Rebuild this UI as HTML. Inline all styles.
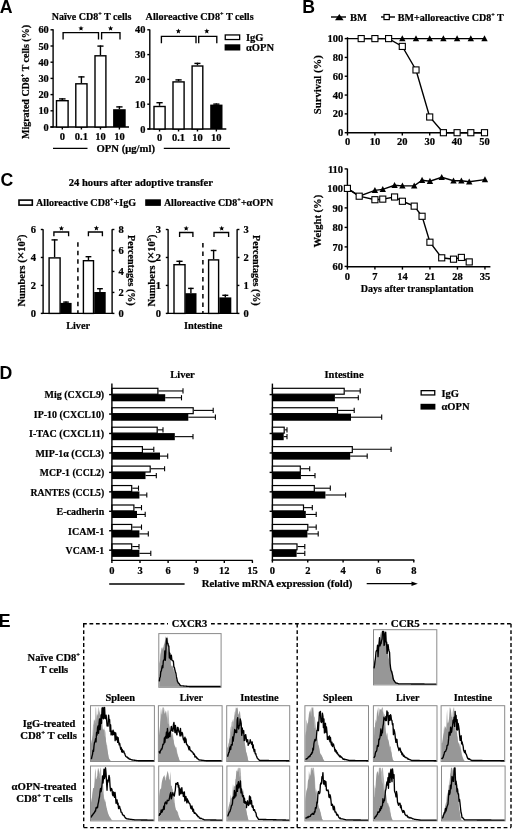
<!DOCTYPE html>
<html><head><meta charset="utf-8"><title>Figure</title>
<style>
html,body{margin:0;padding:0;background:#fff;}
body{width:520px;height:833px;overflow:hidden;position:relative;font-family:"Liberation Serif",serif;}
svg{position:absolute;left:0;top:0;display:block;will-change:transform;}
</style></head>
<body>
<svg width="520" height="833" viewBox="0 0 520 833">
<rect x="0" y="0" width="520" height="833" fill="#fff"/>
<text x="-0.20" y="12.70" font-size="17.7" text-anchor="start" font-family='"Liberation Sans", sans-serif' font-weight="bold" fill="#000">A</text>
<text x="51.70" y="20.20" font-size="10.5" text-anchor="start" font-family='"Liberation Serif", serif' font-weight="bold" fill="#000" stroke="#000" stroke-width="0.22" textLength="79.70" lengthAdjust="spacingAndGlyphs">Naïve CD8<tspan font-size="6.51" dy="-3.99">+</tspan><tspan dy="3.99"> T cells</tspan></text>
<text x="145.60" y="20.20" font-size="10.5" text-anchor="start" font-family='"Liberation Serif", serif' font-weight="bold" fill="#000" stroke="#000" stroke-width="0.22" textLength="108.00" lengthAdjust="spacingAndGlyphs">Alloreactive CD8<tspan font-size="6.51" dy="-3.99">+</tspan><tspan dy="3.99"> T cells</tspan></text>
<line x1="53.10" y1="29.20" x2="53.10" y2="127.60" stroke="#000" stroke-width="1.4"/>
<line x1="50.30" y1="127.00" x2="129.00" y2="127.00" stroke="#000" stroke-width="1.4"/>
<line x1="50.50" y1="127.00" x2="53.10" y2="127.00" stroke="#000" stroke-width="1.4"/>
<text x="48.80" y="130.60" font-size="10.5" text-anchor="end" font-family='"Liberation Serif", serif' font-weight="bold" fill="#000" stroke="#000" stroke-width="0.22" textLength="5.20" lengthAdjust="spacingAndGlyphs">0</text>
<line x1="50.50" y1="110.80" x2="53.10" y2="110.80" stroke="#000" stroke-width="1.4"/>
<text x="48.80" y="114.40" font-size="10.5" text-anchor="end" font-family='"Liberation Serif", serif' font-weight="bold" fill="#000" stroke="#000" stroke-width="0.22" textLength="10.40" lengthAdjust="spacingAndGlyphs">10</text>
<line x1="50.50" y1="94.60" x2="53.10" y2="94.60" stroke="#000" stroke-width="1.4"/>
<text x="48.80" y="98.20" font-size="10.5" text-anchor="end" font-family='"Liberation Serif", serif' font-weight="bold" fill="#000" stroke="#000" stroke-width="0.22" textLength="10.40" lengthAdjust="spacingAndGlyphs">20</text>
<line x1="50.50" y1="78.40" x2="53.10" y2="78.40" stroke="#000" stroke-width="1.4"/>
<text x="48.80" y="82.00" font-size="10.5" text-anchor="end" font-family='"Liberation Serif", serif' font-weight="bold" fill="#000" stroke="#000" stroke-width="0.22" textLength="10.40" lengthAdjust="spacingAndGlyphs">30</text>
<line x1="50.50" y1="62.20" x2="53.10" y2="62.20" stroke="#000" stroke-width="1.4"/>
<text x="48.80" y="65.80" font-size="10.5" text-anchor="end" font-family='"Liberation Serif", serif' font-weight="bold" fill="#000" stroke="#000" stroke-width="0.22" textLength="10.40" lengthAdjust="spacingAndGlyphs">40</text>
<line x1="50.50" y1="46.00" x2="53.10" y2="46.00" stroke="#000" stroke-width="1.4"/>
<text x="48.80" y="49.60" font-size="10.5" text-anchor="end" font-family='"Liberation Serif", serif' font-weight="bold" fill="#000" stroke="#000" stroke-width="0.22" textLength="10.40" lengthAdjust="spacingAndGlyphs">50</text>
<line x1="50.50" y1="29.80" x2="53.10" y2="29.80" stroke="#000" stroke-width="1.4"/>
<text x="48.80" y="33.40" font-size="10.5" text-anchor="end" font-family='"Liberation Serif", serif' font-weight="bold" fill="#000" stroke="#000" stroke-width="0.22" textLength="10.40" lengthAdjust="spacingAndGlyphs">60</text>
<line x1="62.30" y1="100.00" x2="62.30" y2="98.20" stroke="#000" stroke-width="1.4"/>
<line x1="59.05" y1="98.90" x2="65.55" y2="98.90" stroke="#000" stroke-width="1.4"/>
<rect x="56.50" y="100.70" width="11.60" height="26.30" fill="#fff" stroke="#000" stroke-width="1.4"/>
<line x1="62.30" y1="127.00" x2="62.30" y2="129.50" stroke="#000" stroke-width="1.4"/>
<text x="62.30" y="140.20" font-size="10.5" text-anchor="middle" font-family='"Liberation Serif", serif' font-weight="bold" fill="#000" stroke="#000" stroke-width="0.22">0</text>
<line x1="81.40" y1="83.10" x2="81.40" y2="76.20" stroke="#000" stroke-width="1.4"/>
<line x1="78.25" y1="76.90" x2="84.55" y2="76.90" stroke="#000" stroke-width="1.4"/>
<rect x="75.80" y="83.80" width="11.20" height="43.20" fill="#fff" stroke="#000" stroke-width="1.4"/>
<line x1="81.40" y1="127.00" x2="81.40" y2="129.50" stroke="#000" stroke-width="1.4"/>
<text x="81.40" y="140.20" font-size="10.5" text-anchor="middle" font-family='"Liberation Serif", serif' font-weight="bold" fill="#000" stroke="#000" stroke-width="0.22">0.1</text>
<line x1="100.45" y1="55.10" x2="100.45" y2="45.40" stroke="#000" stroke-width="1.4"/>
<line x1="97.37" y1="46.10" x2="103.52" y2="46.10" stroke="#000" stroke-width="1.4"/>
<rect x="95.00" y="55.80" width="10.90" height="71.20" fill="#fff" stroke="#000" stroke-width="1.4"/>
<line x1="100.45" y1="127.00" x2="100.45" y2="129.50" stroke="#000" stroke-width="1.4"/>
<text x="100.45" y="140.20" font-size="10.5" text-anchor="middle" font-family='"Liberation Serif", serif' font-weight="bold" fill="#000" stroke="#000" stroke-width="0.22">10</text>
<line x1="119.40" y1="109.20" x2="119.40" y2="106.20" stroke="#000" stroke-width="1.4"/>
<line x1="116.25" y1="106.90" x2="122.55" y2="106.90" stroke="#000" stroke-width="1.4"/>
<rect x="113.10" y="109.20" width="12.60" height="17.80" fill="#000"/>
<line x1="119.40" y1="127.00" x2="119.40" y2="129.50" stroke="#000" stroke-width="1.4"/>
<text x="119.40" y="140.20" font-size="10.5" text-anchor="middle" font-family='"Liberation Serif", serif' font-weight="bold" fill="#000" stroke="#000" stroke-width="0.22">10</text>
<polyline points="63.10,39.50 63.10,32.67 98.50,32.67 98.50,39.50" fill="none" stroke="#000" stroke-width="1.35" stroke-linejoin="miter"/>
<polyline points="101.60,39.50 101.60,32.67 120.00,32.67 120.00,39.50" fill="none" stroke="#000" stroke-width="1.35" stroke-linejoin="miter"/>
<polygon points="81.00,25.65 81.73,27.40 83.62,27.55 82.18,28.78 82.62,30.62 81.00,29.64 79.38,30.62 79.82,28.78 78.38,27.55 80.27,27.40" fill="#000"/>
<polygon points="110.60,25.65 111.33,27.40 113.22,27.55 111.78,28.78 112.22,30.62 110.60,29.64 108.98,30.62 109.42,28.78 107.98,27.55 109.87,27.40" fill="#000"/>
<text x="29.00" y="82.00" font-size="10.5" text-anchor="middle" font-family='"Liberation Serif", serif' font-weight="bold" fill="#000" stroke="#000" stroke-width="0.22" textLength="114.00" lengthAdjust="spacingAndGlyphs" transform="rotate(-90 29.00 82.00)">Migrated CD8<tspan font-size="6.51" dy="-3.99">+</tspan><tspan dy="3.99"> T cells (%)</tspan></text>
<line x1="149.80" y1="29.40" x2="149.80" y2="129.60" stroke="#000" stroke-width="1.4"/>
<line x1="147.50" y1="129.00" x2="226.30" y2="129.00" stroke="#000" stroke-width="1.4"/>
<line x1="147.30" y1="129.00" x2="149.80" y2="129.00" stroke="#000" stroke-width="1.4"/>
<text x="145.50" y="132.60" font-size="10.5" text-anchor="end" font-family='"Liberation Serif", serif' font-weight="bold" fill="#000" stroke="#000" stroke-width="0.22" textLength="5.20" lengthAdjust="spacingAndGlyphs">0</text>
<line x1="147.30" y1="104.20" x2="149.80" y2="104.20" stroke="#000" stroke-width="1.4"/>
<text x="145.50" y="107.80" font-size="10.5" text-anchor="end" font-family='"Liberation Serif", serif' font-weight="bold" fill="#000" stroke="#000" stroke-width="0.22" textLength="10.40" lengthAdjust="spacingAndGlyphs">10</text>
<line x1="147.30" y1="79.40" x2="149.80" y2="79.40" stroke="#000" stroke-width="1.4"/>
<text x="145.50" y="83.00" font-size="10.5" text-anchor="end" font-family='"Liberation Serif", serif' font-weight="bold" fill="#000" stroke="#000" stroke-width="0.22" textLength="10.40" lengthAdjust="spacingAndGlyphs">20</text>
<line x1="147.30" y1="54.60" x2="149.80" y2="54.60" stroke="#000" stroke-width="1.4"/>
<text x="145.50" y="58.20" font-size="10.5" text-anchor="end" font-family='"Liberation Serif", serif' font-weight="bold" fill="#000" stroke="#000" stroke-width="0.22" textLength="10.40" lengthAdjust="spacingAndGlyphs">30</text>
<line x1="147.30" y1="29.80" x2="149.80" y2="29.80" stroke="#000" stroke-width="1.4"/>
<text x="145.50" y="33.40" font-size="10.5" text-anchor="end" font-family='"Liberation Serif", serif' font-weight="bold" fill="#000" stroke="#000" stroke-width="0.22" textLength="10.40" lengthAdjust="spacingAndGlyphs">40</text>
<line x1="159.55" y1="105.80" x2="159.55" y2="102.00" stroke="#000" stroke-width="1.4"/>
<line x1="156.43" y1="102.70" x2="162.68" y2="102.70" stroke="#000" stroke-width="1.4"/>
<rect x="154.00" y="106.50" width="11.10" height="22.50" fill="#fff" stroke="#000" stroke-width="1.4"/>
<line x1="159.55" y1="129.00" x2="159.55" y2="131.50" stroke="#000" stroke-width="1.4"/>
<text x="159.55" y="140.50" font-size="10.5" text-anchor="middle" font-family='"Liberation Serif", serif' font-weight="bold" fill="#000" stroke="#000" stroke-width="0.22">0</text>
<line x1="178.55" y1="81.20" x2="178.55" y2="79.20" stroke="#000" stroke-width="1.4"/>
<line x1="175.43" y1="79.90" x2="181.68" y2="79.90" stroke="#000" stroke-width="1.4"/>
<rect x="173.00" y="81.90" width="11.10" height="47.10" fill="#fff" stroke="#000" stroke-width="1.4"/>
<line x1="178.55" y1="129.00" x2="178.55" y2="131.50" stroke="#000" stroke-width="1.4"/>
<text x="178.55" y="140.50" font-size="10.5" text-anchor="middle" font-family='"Liberation Serif", serif' font-weight="bold" fill="#000" stroke="#000" stroke-width="0.22">0.1</text>
<line x1="197.45" y1="65.30" x2="197.45" y2="62.70" stroke="#000" stroke-width="1.4"/>
<line x1="194.42" y1="63.40" x2="200.47" y2="63.40" stroke="#000" stroke-width="1.4"/>
<rect x="192.10" y="66.00" width="10.70" height="63.00" fill="#fff" stroke="#000" stroke-width="1.4"/>
<line x1="197.45" y1="129.00" x2="197.45" y2="131.50" stroke="#000" stroke-width="1.4"/>
<text x="197.45" y="140.50" font-size="10.5" text-anchor="middle" font-family='"Liberation Serif", serif' font-weight="bold" fill="#000" stroke="#000" stroke-width="0.22">10</text>
<line x1="216.35" y1="104.60" x2="216.35" y2="103.40" stroke="#000" stroke-width="1.4"/>
<line x1="213.27" y1="104.10" x2="219.43" y2="104.10" stroke="#000" stroke-width="1.4"/>
<rect x="210.20" y="104.60" width="12.30" height="24.40" fill="#000"/>
<line x1="216.35" y1="129.00" x2="216.35" y2="131.50" stroke="#000" stroke-width="1.4"/>
<text x="216.35" y="140.50" font-size="10.5" text-anchor="middle" font-family='"Liberation Serif", serif' font-weight="bold" fill="#000" stroke="#000" stroke-width="0.22">10</text>
<polyline points="161.40,43.20 161.40,36.38 196.00,36.38 196.00,43.20" fill="none" stroke="#000" stroke-width="1.35" stroke-linejoin="miter"/>
<polyline points="198.70,43.20 198.70,36.38 216.80,36.38 216.80,43.20" fill="none" stroke="#000" stroke-width="1.35" stroke-linejoin="miter"/>
<polygon points="178.40,28.45 179.13,30.20 181.02,30.35 179.58,31.58 180.02,33.42 178.40,32.44 176.78,33.42 177.22,31.58 175.78,30.35 177.67,30.20" fill="#000"/>
<polygon points="206.80,28.45 207.53,30.20 209.42,30.35 207.98,31.58 208.42,33.42 206.80,32.44 205.18,33.42 205.62,31.58 204.18,30.35 206.07,30.20" fill="#000"/>
<rect x="225.25" y="34.95" width="14.40" height="4.60" fill="#fff" stroke="#000" stroke-width="1.3"/>
<rect x="224.60" y="44.30" width="15.70" height="6.20" fill="#000"/>
<text x="246.00" y="40.60" font-size="10.5" text-anchor="start" font-family='"Liberation Serif", serif' font-weight="bold" fill="#000" stroke="#000" stroke-width="0.22">IgG</text>
<text x="246.00" y="50.60" font-size="10.5" text-anchor="start" font-family='"Liberation Serif", serif' font-weight="bold" fill="#000" stroke="#000" stroke-width="0.22">αOPN</text>
<line x1="53.00" y1="148.40" x2="87.50" y2="148.40" stroke="#000" stroke-width="1.3"/>
<line x1="163.80" y1="148.40" x2="229.90" y2="148.40" stroke="#000" stroke-width="1.3"/>
<text x="96.50" y="152.20" font-size="10.5" text-anchor="start" font-family='"Liberation Serif", serif' font-weight="bold" fill="#000" stroke="#000" stroke-width="0.22" textLength="58.50" lengthAdjust="spacingAndGlyphs">OPN (μg/ml)</text>
<!--B-->
<text x="302.20" y="12.60" font-size="17.7" text-anchor="start" font-family='"Liberation Sans", sans-serif' font-weight="bold" fill="#000">B</text>
<line x1="331.00" y1="17.00" x2="346.00" y2="17.00" stroke="#000" stroke-width="1.4"/>
<polygon points="335.0,20.2 339.3,13.9 343.6,20.2" fill="#000"/>
<text x="350.00" y="20.50" font-size="10.5" text-anchor="start" font-family='"Liberation Serif", serif' font-weight="bold" fill="#000" stroke="#000" stroke-width="0.22">BM</text>
<line x1="381.00" y1="17.00" x2="395.00" y2="17.00" stroke="#000" stroke-width="1.4"/>
<rect x="384.00" y="14.50" width="5.30" height="5.10" fill="#fff" stroke="#000" stroke-width="1.2"/>
<text x="397.80" y="20.50" font-size="10.5" text-anchor="start" font-family='"Liberation Serif", serif' font-weight="bold" fill="#000" stroke="#000" stroke-width="0.22" textLength="106.00" lengthAdjust="spacingAndGlyphs">BM+alloreactive CD8<tspan font-size="6.51" dy="-3.99">+</tspan><tspan dy="3.99"> T</tspan></text>
<line x1="347.50" y1="37.20" x2="347.50" y2="133.30" stroke="#000" stroke-width="1.4"/>
<line x1="346.90" y1="132.70" x2="486.00" y2="132.70" stroke="#000" stroke-width="1.4"/>
<line x1="344.70" y1="132.70" x2="347.50" y2="132.70" stroke="#000" stroke-width="1.4"/>
<text x="343.20" y="136.30" font-size="10.5" text-anchor="end" font-family='"Liberation Serif", serif' font-weight="bold" fill="#000" stroke="#000" stroke-width="0.22">0</text>
<line x1="344.70" y1="113.88" x2="347.50" y2="113.88" stroke="#000" stroke-width="1.4"/>
<text x="343.20" y="117.48" font-size="10.5" text-anchor="end" font-family='"Liberation Serif", serif' font-weight="bold" fill="#000" stroke="#000" stroke-width="0.22">20</text>
<line x1="344.70" y1="95.06" x2="347.50" y2="95.06" stroke="#000" stroke-width="1.4"/>
<text x="343.20" y="98.66" font-size="10.5" text-anchor="end" font-family='"Liberation Serif", serif' font-weight="bold" fill="#000" stroke="#000" stroke-width="0.22">40</text>
<line x1="344.70" y1="76.24" x2="347.50" y2="76.24" stroke="#000" stroke-width="1.4"/>
<text x="343.20" y="79.84" font-size="10.5" text-anchor="end" font-family='"Liberation Serif", serif' font-weight="bold" fill="#000" stroke="#000" stroke-width="0.22">60</text>
<line x1="344.70" y1="57.42" x2="347.50" y2="57.42" stroke="#000" stroke-width="1.4"/>
<text x="343.20" y="61.02" font-size="10.5" text-anchor="end" font-family='"Liberation Serif", serif' font-weight="bold" fill="#000" stroke="#000" stroke-width="0.22">80</text>
<line x1="344.70" y1="38.60" x2="347.50" y2="38.60" stroke="#000" stroke-width="1.4"/>
<text x="343.20" y="42.20" font-size="10.5" text-anchor="end" font-family='"Liberation Serif", serif' font-weight="bold" fill="#000" stroke="#000" stroke-width="0.22">100</text>
<line x1="347.50" y1="132.70" x2="347.50" y2="135.50" stroke="#000" stroke-width="1.4"/>
<text x="347.50" y="145.00" font-size="10.5" text-anchor="middle" font-family='"Liberation Serif", serif' font-weight="bold" fill="#000" stroke="#000" stroke-width="0.22">0</text>
<line x1="374.90" y1="132.70" x2="374.90" y2="135.50" stroke="#000" stroke-width="1.4"/>
<text x="374.90" y="145.00" font-size="10.5" text-anchor="middle" font-family='"Liberation Serif", serif' font-weight="bold" fill="#000" stroke="#000" stroke-width="0.22">10</text>
<line x1="402.30" y1="132.70" x2="402.30" y2="135.50" stroke="#000" stroke-width="1.4"/>
<text x="402.30" y="145.00" font-size="10.5" text-anchor="middle" font-family='"Liberation Serif", serif' font-weight="bold" fill="#000" stroke="#000" stroke-width="0.22">20</text>
<line x1="429.70" y1="132.70" x2="429.70" y2="135.50" stroke="#000" stroke-width="1.4"/>
<text x="429.70" y="145.00" font-size="10.5" text-anchor="middle" font-family='"Liberation Serif", serif' font-weight="bold" fill="#000" stroke="#000" stroke-width="0.22">30</text>
<line x1="457.10" y1="132.70" x2="457.10" y2="135.50" stroke="#000" stroke-width="1.4"/>
<text x="457.10" y="145.00" font-size="10.5" text-anchor="middle" font-family='"Liberation Serif", serif' font-weight="bold" fill="#000" stroke="#000" stroke-width="0.22">40</text>
<line x1="484.50" y1="132.70" x2="484.50" y2="135.50" stroke="#000" stroke-width="1.4"/>
<text x="484.50" y="145.00" font-size="10.5" text-anchor="middle" font-family='"Liberation Serif", serif' font-weight="bold" fill="#000" stroke="#000" stroke-width="0.22">50</text>
<text x="321.20" y="84.70" font-size="10.5" text-anchor="middle" font-family='"Liberation Serif", serif' font-weight="bold" fill="#000" stroke="#000" stroke-width="0.22" textLength="59.00" lengthAdjust="spacingAndGlyphs" transform="rotate(-90 321.20 84.70)">Survival (%)</text>
<line x1="347.50" y1="38.60" x2="484.50" y2="38.60" stroke="#000" stroke-width="1.4"/>
<polygon points="399.10,41.32 402.30,35.24 405.50,41.32" fill="#000"/>
<polygon points="412.80,41.32 416.00,35.24 419.20,41.32" fill="#000"/>
<polygon points="426.50,41.32 429.70,35.24 432.90,41.32" fill="#000"/>
<polygon points="440.20,41.32 443.40,35.24 446.60,41.32" fill="#000"/>
<polygon points="453.90,41.32 457.10,35.24 460.30,41.32" fill="#000"/>
<polygon points="467.60,41.32 470.80,35.24 474.00,41.32" fill="#000"/>
<polygon points="481.30,41.32 484.50,35.24 487.70,41.32" fill="#000"/>
<polyline points="361.20,38.60 374.90,38.60 388.60,38.60 402.30,46.41 416.00,69.94 429.70,116.99 443.40,132.70 457.10,132.70 470.80,132.70 484.50,132.70" fill="none" stroke="#000" stroke-width="1.4" stroke-linejoin="miter"/>
<rect x="358.15" y="35.55" width="6.10" height="6.10" fill="#fff" stroke="#000" stroke-width="1.1"/>
<rect x="371.85" y="35.55" width="6.10" height="6.10" fill="#fff" stroke="#000" stroke-width="1.1"/>
<rect x="385.55" y="35.55" width="6.10" height="6.10" fill="#fff" stroke="#000" stroke-width="1.1"/>
<rect x="399.25" y="43.36" width="6.10" height="6.10" fill="#fff" stroke="#000" stroke-width="1.1"/>
<rect x="412.95" y="66.89" width="6.10" height="6.10" fill="#fff" stroke="#000" stroke-width="1.1"/>
<rect x="426.65" y="113.94" width="6.10" height="6.10" fill="#fff" stroke="#000" stroke-width="1.1"/>
<rect x="440.35" y="129.65" width="6.10" height="6.10" fill="#fff" stroke="#000" stroke-width="1.1"/>
<rect x="454.05" y="129.65" width="6.10" height="6.10" fill="#fff" stroke="#000" stroke-width="1.1"/>
<rect x="467.75" y="129.65" width="6.10" height="6.10" fill="#fff" stroke="#000" stroke-width="1.1"/>
<rect x="481.45" y="129.65" width="6.10" height="6.10" fill="#fff" stroke="#000" stroke-width="1.1"/>
<line x1="347.40" y1="168.60" x2="347.40" y2="267.40" stroke="#000" stroke-width="1.4"/>
<line x1="346.80" y1="266.80" x2="490.40" y2="266.80" stroke="#000" stroke-width="1.4"/>
<line x1="344.60" y1="266.40" x2="347.40" y2="266.40" stroke="#000" stroke-width="1.4"/>
<text x="343.10" y="270.00" font-size="10.5" text-anchor="end" font-family='"Liberation Serif", serif' font-weight="bold" fill="#000" stroke="#000" stroke-width="0.22">60</text>
<line x1="344.60" y1="246.90" x2="347.40" y2="246.90" stroke="#000" stroke-width="1.4"/>
<text x="343.10" y="250.50" font-size="10.5" text-anchor="end" font-family='"Liberation Serif", serif' font-weight="bold" fill="#000" stroke="#000" stroke-width="0.22">70</text>
<line x1="344.60" y1="227.40" x2="347.40" y2="227.40" stroke="#000" stroke-width="1.4"/>
<text x="343.10" y="231.00" font-size="10.5" text-anchor="end" font-family='"Liberation Serif", serif' font-weight="bold" fill="#000" stroke="#000" stroke-width="0.22">80</text>
<line x1="344.60" y1="207.90" x2="347.40" y2="207.90" stroke="#000" stroke-width="1.4"/>
<text x="343.10" y="211.50" font-size="10.5" text-anchor="end" font-family='"Liberation Serif", serif' font-weight="bold" fill="#000" stroke="#000" stroke-width="0.22">90</text>
<line x1="344.60" y1="188.40" x2="347.40" y2="188.40" stroke="#000" stroke-width="1.4"/>
<text x="343.10" y="192.00" font-size="10.5" text-anchor="end" font-family='"Liberation Serif", serif' font-weight="bold" fill="#000" stroke="#000" stroke-width="0.22">100</text>
<line x1="344.60" y1="168.90" x2="347.40" y2="168.90" stroke="#000" stroke-width="1.4"/>
<text x="343.10" y="172.50" font-size="10.5" text-anchor="end" font-family='"Liberation Serif", serif' font-weight="bold" fill="#000" stroke="#000" stroke-width="0.22">110</text>
<line x1="347.40" y1="266.80" x2="347.40" y2="269.60" stroke="#000" stroke-width="1.4"/>
<text x="347.40" y="280.00" font-size="10.5" text-anchor="middle" font-family='"Liberation Serif", serif' font-weight="bold" fill="#000" stroke="#000" stroke-width="0.22">0</text>
<line x1="374.91" y1="266.80" x2="374.91" y2="269.60" stroke="#000" stroke-width="1.4"/>
<text x="374.91" y="280.00" font-size="10.5" text-anchor="middle" font-family='"Liberation Serif", serif' font-weight="bold" fill="#000" stroke="#000" stroke-width="0.22">7</text>
<line x1="402.42" y1="266.80" x2="402.42" y2="269.60" stroke="#000" stroke-width="1.4"/>
<text x="402.42" y="280.00" font-size="10.5" text-anchor="middle" font-family='"Liberation Serif", serif' font-weight="bold" fill="#000" stroke="#000" stroke-width="0.22">14</text>
<line x1="429.93" y1="266.80" x2="429.93" y2="269.60" stroke="#000" stroke-width="1.4"/>
<text x="429.93" y="280.00" font-size="10.5" text-anchor="middle" font-family='"Liberation Serif", serif' font-weight="bold" fill="#000" stroke="#000" stroke-width="0.22">21</text>
<line x1="457.44" y1="266.80" x2="457.44" y2="269.60" stroke="#000" stroke-width="1.4"/>
<text x="457.44" y="280.00" font-size="10.5" text-anchor="middle" font-family='"Liberation Serif", serif' font-weight="bold" fill="#000" stroke="#000" stroke-width="0.22">28</text>
<line x1="484.95" y1="266.80" x2="484.95" y2="269.60" stroke="#000" stroke-width="1.4"/>
<text x="484.95" y="280.00" font-size="10.5" text-anchor="middle" font-family='"Liberation Serif", serif' font-weight="bold" fill="#000" stroke="#000" stroke-width="0.22">35</text>
<text x="417.20" y="291.50" font-size="10.5" text-anchor="middle" font-family='"Liberation Serif", serif' font-weight="bold" fill="#000" stroke="#000" stroke-width="0.22" textLength="112.80" lengthAdjust="spacingAndGlyphs">Days after transplantation</text>
<text x="321.00" y="221.10" font-size="10.5" text-anchor="middle" font-family='"Liberation Serif", serif' font-weight="bold" fill="#000" stroke="#000" stroke-width="0.22" textLength="52.60" lengthAdjust="spacingAndGlyphs" transform="rotate(-90 321.00 221.10)">Weight (%)</text>
<polyline points="347.40,188.40 359.19,196.20 374.91,190.35 382.77,189.38 394.56,185.28 402.42,185.87 414.21,185.87 422.07,180.21 429.93,181.19 441.72,177.28 453.51,180.79 461.37,180.79 469.23,181.77 484.95,179.62" fill="none" stroke="#000" stroke-width="1.4" stroke-linejoin="miter"/>
<polygon points="344.20,191.12 347.40,185.04 350.60,191.12" fill="#000"/>
<polygon points="355.99,198.92 359.19,192.84 362.39,198.92" fill="#000"/>
<polygon points="371.71,193.07 374.91,186.99 378.11,193.07" fill="#000"/>
<polygon points="379.57,192.09 382.77,186.01 385.97,192.09" fill="#000"/>
<polygon points="391.36,188.00 394.56,181.92 397.76,188.00" fill="#000"/>
<polygon points="399.22,188.59 402.42,182.50 405.62,188.59" fill="#000"/>
<polygon points="411.01,188.59 414.21,182.50 417.41,188.59" fill="#000"/>
<polygon points="418.87,182.93 422.07,176.85 425.27,182.93" fill="#000"/>
<polygon points="426.73,183.91 429.93,177.82 433.13,183.91" fill="#000"/>
<polygon points="438.52,180.00 441.72,173.92 444.92,180.00" fill="#000"/>
<polygon points="450.31,183.51 453.51,177.43 456.71,183.51" fill="#000"/>
<polygon points="458.17,183.51 461.37,177.43 464.57,183.51" fill="#000"/>
<polygon points="466.03,184.49 469.23,178.41 472.43,184.49" fill="#000"/>
<polygon points="481.75,182.34 484.95,176.26 488.15,182.34" fill="#000"/>
<polyline points="347.40,188.40 359.19,196.20 374.91,199.71 382.77,199.12 394.56,196.98 402.42,201.27 414.21,206.14 422.07,216.28 429.93,242.22 441.72,257.82 453.51,259.19 461.37,257.43 469.23,261.92" fill="none" stroke="#000" stroke-width="1.4" stroke-linejoin="miter"/>
<rect x="344.35" y="185.35" width="6.10" height="6.10" fill="#fff" stroke="#000" stroke-width="1.1"/>
<rect x="356.14" y="193.15" width="6.10" height="6.10" fill="#fff" stroke="#000" stroke-width="1.1"/>
<rect x="371.86" y="196.66" width="6.10" height="6.10" fill="#fff" stroke="#000" stroke-width="1.1"/>
<rect x="379.72" y="196.07" width="6.10" height="6.10" fill="#fff" stroke="#000" stroke-width="1.1"/>
<rect x="391.51" y="193.93" width="6.10" height="6.10" fill="#fff" stroke="#000" stroke-width="1.1"/>
<rect x="399.37" y="198.22" width="6.10" height="6.10" fill="#fff" stroke="#000" stroke-width="1.1"/>
<rect x="411.16" y="203.09" width="6.10" height="6.10" fill="#fff" stroke="#000" stroke-width="1.1"/>
<rect x="419.02" y="213.23" width="6.10" height="6.10" fill="#fff" stroke="#000" stroke-width="1.1"/>
<rect x="426.88" y="239.17" width="6.10" height="6.10" fill="#fff" stroke="#000" stroke-width="1.1"/>
<rect x="438.67" y="254.77" width="6.10" height="6.10" fill="#fff" stroke="#000" stroke-width="1.1"/>
<rect x="450.46" y="256.13" width="6.10" height="6.10" fill="#fff" stroke="#000" stroke-width="1.1"/>
<rect x="458.32" y="254.38" width="6.10" height="6.10" fill="#fff" stroke="#000" stroke-width="1.1"/>
<rect x="466.18" y="258.87" width="6.10" height="6.10" fill="#fff" stroke="#000" stroke-width="1.1"/>
<!--C-->
<text x="0.60" y="185.60" font-size="17.7" text-anchor="start" font-family='"Liberation Sans", sans-serif' font-weight="bold" fill="#000">C</text>
<text x="68.70" y="186.20" font-size="10.5" text-anchor="start" font-family='"Liberation Serif", serif' font-weight="bold" fill="#000" stroke="#000" stroke-width="0.22" textLength="144.20" lengthAdjust="spacingAndGlyphs">24 hours after adoptive transfer</text>
<rect x="19.00" y="200.10" width="13.30" height="5.00" fill="#fff" stroke="#000" stroke-width="1.6"/>
<text x="36.10" y="205.90" font-size="10.5" text-anchor="start" font-family='"Liberation Serif", serif' font-weight="bold" fill="#000" stroke="#000" stroke-width="0.22" textLength="99.90" lengthAdjust="spacingAndGlyphs">Alloreactive CD8<tspan font-size="6.51" dy="-3.99">+</tspan><tspan dy="3.99">+IgG</tspan></text>
<rect x="145.20" y="199.30" width="15.70" height="6.60" fill="#000"/>
<text x="163.90" y="205.90" font-size="10.5" text-anchor="start" font-family='"Liberation Serif", serif' font-weight="bold" fill="#000" stroke="#000" stroke-width="0.22" textLength="109.40" lengthAdjust="spacingAndGlyphs">Alloreactive CD8<tspan font-size="6.51" dy="-3.99">+</tspan><tspan dy="3.99">+αOPN</tspan></text>
<line x1="43.10" y1="229.20" x2="43.10" y2="314.00" stroke="#000" stroke-width="1.4"/>
<line x1="112.10" y1="229.20" x2="112.10" y2="314.00" stroke="#000" stroke-width="1.4"/>
<line x1="42.50" y1="313.40" x2="112.70" y2="313.40" stroke="#000" stroke-width="1.4"/>
<line x1="40.80" y1="313.40" x2="43.10" y2="313.40" stroke="#000" stroke-width="1.4"/>
<text x="35.90" y="317.10" font-size="10.5" text-anchor="end" font-family='"Liberation Serif", serif' font-weight="bold" fill="#000" stroke="#000" stroke-width="0.22">0</text>
<line x1="40.80" y1="285.43" x2="43.10" y2="285.43" stroke="#000" stroke-width="1.4"/>
<text x="35.90" y="289.13" font-size="10.5" text-anchor="end" font-family='"Liberation Serif", serif' font-weight="bold" fill="#000" stroke="#000" stroke-width="0.22">2</text>
<line x1="40.80" y1="257.47" x2="43.10" y2="257.47" stroke="#000" stroke-width="1.4"/>
<text x="35.90" y="261.17" font-size="10.5" text-anchor="end" font-family='"Liberation Serif", serif' font-weight="bold" fill="#000" stroke="#000" stroke-width="0.22">4</text>
<line x1="40.80" y1="229.50" x2="43.10" y2="229.50" stroke="#000" stroke-width="1.4"/>
<text x="35.90" y="233.20" font-size="10.5" text-anchor="end" font-family='"Liberation Serif", serif' font-weight="bold" fill="#000" stroke="#000" stroke-width="0.22">6</text>
<line x1="112.10" y1="313.40" x2="114.40" y2="313.40" stroke="#000" stroke-width="1.4"/>
<text x="118.60" y="317.10" font-size="10.5" text-anchor="start" font-family='"Liberation Serif", serif' font-weight="bold" fill="#000" stroke="#000" stroke-width="0.22">0</text>
<line x1="112.10" y1="292.42" x2="114.40" y2="292.42" stroke="#000" stroke-width="1.4"/>
<text x="118.60" y="296.12" font-size="10.5" text-anchor="start" font-family='"Liberation Serif", serif' font-weight="bold" fill="#000" stroke="#000" stroke-width="0.22">2</text>
<line x1="112.10" y1="271.45" x2="114.40" y2="271.45" stroke="#000" stroke-width="1.4"/>
<text x="118.60" y="275.15" font-size="10.5" text-anchor="start" font-family='"Liberation Serif", serif' font-weight="bold" fill="#000" stroke="#000" stroke-width="0.22">4</text>
<line x1="112.10" y1="250.47" x2="114.40" y2="250.47" stroke="#000" stroke-width="1.4"/>
<text x="118.60" y="254.17" font-size="10.5" text-anchor="start" font-family='"Liberation Serif", serif' font-weight="bold" fill="#000" stroke="#000" stroke-width="0.22">6</text>
<line x1="112.10" y1="229.50" x2="114.40" y2="229.50" stroke="#000" stroke-width="1.4"/>
<text x="118.60" y="233.20" font-size="10.5" text-anchor="start" font-family='"Liberation Serif", serif' font-weight="bold" fill="#000" stroke="#000" stroke-width="0.22">8</text>
<line x1="54.60" y1="257.20" x2="54.60" y2="239.20" stroke="#000" stroke-width="1.4"/>
<line x1="51.50" y1="239.90" x2="57.70" y2="239.90" stroke="#000" stroke-width="1.4"/>
<rect x="49.10" y="257.90" width="11.00" height="55.50" fill="#fff" stroke="#000" stroke-width="1.4"/>
<line x1="66.00" y1="302.90" x2="66.00" y2="301.40" stroke="#000" stroke-width="1.4"/>
<line x1="63.20" y1="302.10" x2="68.80" y2="302.10" stroke="#000" stroke-width="1.4"/>
<rect x="60.40" y="302.90" width="11.20" height="10.50" fill="#000"/>
<line x1="88.45" y1="260.00" x2="88.45" y2="256.00" stroke="#000" stroke-width="1.4"/>
<line x1="85.58" y1="256.70" x2="91.33" y2="256.70" stroke="#000" stroke-width="1.4"/>
<rect x="83.40" y="260.70" width="10.10" height="52.70" fill="#fff" stroke="#000" stroke-width="1.4"/>
<line x1="99.95" y1="292.00" x2="99.95" y2="288.00" stroke="#000" stroke-width="1.4"/>
<line x1="97.08" y1="288.70" x2="102.83" y2="288.70" stroke="#000" stroke-width="1.4"/>
<rect x="94.20" y="292.00" width="11.50" height="21.40" fill="#000"/>
<line x1="77.90" y1="242.30" x2="77.90" y2="313.40" stroke="#000" stroke-width="1.5" stroke-dasharray="4.4,4.1"/>
<polyline points="53.90,236.30 53.90,231.98 68.60,231.98 68.60,236.30" fill="none" stroke="#000" stroke-width="1.35" stroke-linejoin="miter"/>
<polyline points="88.40,236.30 88.40,231.98 102.40,231.98 102.40,236.30" fill="none" stroke="#000" stroke-width="1.35" stroke-linejoin="miter"/>
<polygon points="61.40,225.65 62.13,227.40 64.02,227.55 62.58,228.78 63.02,230.62 61.40,229.64 59.78,230.62 60.22,228.78 58.78,227.55 60.67,227.40" fill="#000"/>
<polygon points="96.40,225.45 97.13,227.20 99.02,227.35 97.58,228.58 98.02,230.42 96.40,229.44 94.78,230.42 95.22,228.58 93.78,227.35 95.67,227.20" fill="#000"/>
<text x="25.10" y="270.50" font-size="10.5" text-anchor="middle" font-family='"Liberation Serif", serif' font-weight="bold" fill="#000" stroke="#000" stroke-width="0.22" textLength="72.00" lengthAdjust="spacingAndGlyphs" transform="rotate(-90 25.10 270.50)">Numbers (<tspan font-size="13.5">×</tspan>10<tspan font-size="6.51" dy="-3.99">3</tspan><tspan dy="3.99">)</tspan></text>
<text x="127.90" y="270.40" font-size="10.5" text-anchor="middle" font-family='"Liberation Serif", serif' font-weight="bold" fill="#000" stroke="#000" stroke-width="0.22" textLength="70.60" lengthAdjust="spacingAndGlyphs" transform="rotate(90 127.90 270.40)">Percentages (%)</text>
<text x="78.10" y="329.40" font-size="10.5" text-anchor="middle" font-family='"Liberation Serif", serif' font-weight="bold" fill="#000" stroke="#000" stroke-width="0.22" textLength="23.80" lengthAdjust="spacingAndGlyphs">Liver</text>
<line x1="168.10" y1="229.20" x2="168.10" y2="314.00" stroke="#000" stroke-width="1.4"/>
<line x1="237.10" y1="229.20" x2="237.10" y2="314.00" stroke="#000" stroke-width="1.4"/>
<line x1="167.50" y1="313.40" x2="237.70" y2="313.40" stroke="#000" stroke-width="1.4"/>
<line x1="165.80" y1="313.40" x2="168.10" y2="313.40" stroke="#000" stroke-width="1.4"/>
<text x="160.90" y="317.10" font-size="10.5" text-anchor="end" font-family='"Liberation Serif", serif' font-weight="bold" fill="#000" stroke="#000" stroke-width="0.22">0</text>
<line x1="165.80" y1="285.43" x2="168.10" y2="285.43" stroke="#000" stroke-width="1.4"/>
<text x="160.90" y="289.13" font-size="10.5" text-anchor="end" font-family='"Liberation Serif", serif' font-weight="bold" fill="#000" stroke="#000" stroke-width="0.22">1</text>
<line x1="165.80" y1="257.47" x2="168.10" y2="257.47" stroke="#000" stroke-width="1.4"/>
<text x="160.90" y="261.17" font-size="10.5" text-anchor="end" font-family='"Liberation Serif", serif' font-weight="bold" fill="#000" stroke="#000" stroke-width="0.22">2</text>
<line x1="165.80" y1="229.50" x2="168.10" y2="229.50" stroke="#000" stroke-width="1.4"/>
<text x="160.90" y="233.20" font-size="10.5" text-anchor="end" font-family='"Liberation Serif", serif' font-weight="bold" fill="#000" stroke="#000" stroke-width="0.22">3</text>
<line x1="237.10" y1="313.40" x2="239.40" y2="313.40" stroke="#000" stroke-width="1.4"/>
<text x="243.60" y="317.10" font-size="10.5" text-anchor="start" font-family='"Liberation Serif", serif' font-weight="bold" fill="#000" stroke="#000" stroke-width="0.22">0</text>
<line x1="237.10" y1="285.43" x2="239.40" y2="285.43" stroke="#000" stroke-width="1.4"/>
<text x="243.60" y="289.13" font-size="10.5" text-anchor="start" font-family='"Liberation Serif", serif' font-weight="bold" fill="#000" stroke="#000" stroke-width="0.22">1</text>
<line x1="237.10" y1="257.47" x2="239.40" y2="257.47" stroke="#000" stroke-width="1.4"/>
<text x="243.60" y="261.17" font-size="10.5" text-anchor="start" font-family='"Liberation Serif", serif' font-weight="bold" fill="#000" stroke="#000" stroke-width="0.22">2</text>
<line x1="237.10" y1="229.50" x2="239.40" y2="229.50" stroke="#000" stroke-width="1.4"/>
<text x="243.60" y="233.20" font-size="10.5" text-anchor="start" font-family='"Liberation Serif", serif' font-weight="bold" fill="#000" stroke="#000" stroke-width="0.22">3</text>
<line x1="179.50" y1="264.00" x2="179.50" y2="260.60" stroke="#000" stroke-width="1.4"/>
<line x1="176.40" y1="261.30" x2="182.60" y2="261.30" stroke="#000" stroke-width="1.4"/>
<rect x="174.00" y="264.70" width="11.00" height="48.70" fill="#fff" stroke="#000" stroke-width="1.4"/>
<line x1="190.90" y1="293.20" x2="190.90" y2="287.70" stroke="#000" stroke-width="1.4"/>
<line x1="188.10" y1="288.40" x2="193.70" y2="288.40" stroke="#000" stroke-width="1.4"/>
<rect x="185.30" y="293.20" width="11.20" height="20.20" fill="#000"/>
<line x1="213.60" y1="259.20" x2="213.60" y2="249.80" stroke="#000" stroke-width="1.4"/>
<line x1="210.75" y1="250.50" x2="216.45" y2="250.50" stroke="#000" stroke-width="1.4"/>
<rect x="208.60" y="259.90" width="10.00" height="53.50" fill="#fff" stroke="#000" stroke-width="1.4"/>
<line x1="225.30" y1="297.40" x2="225.30" y2="294.60" stroke="#000" stroke-width="1.4"/>
<line x1="222.30" y1="295.30" x2="228.30" y2="295.30" stroke="#000" stroke-width="1.4"/>
<rect x="219.30" y="297.40" width="12.00" height="16.00" fill="#000"/>
<line x1="202.90" y1="243.00" x2="202.90" y2="313.40" stroke="#000" stroke-width="1.5" stroke-dasharray="4.4,4.1"/>
<polyline points="179.60,237.00 179.60,232.48 192.90,232.48 192.90,237.00" fill="none" stroke="#000" stroke-width="1.35" stroke-linejoin="miter"/>
<polyline points="214.00,237.00 214.00,232.48 228.60,232.48 228.60,237.00" fill="none" stroke="#000" stroke-width="1.35" stroke-linejoin="miter"/>
<polygon points="186.20,225.65 186.93,227.40 188.82,227.55 187.38,228.78 187.82,230.62 186.20,229.64 184.58,230.62 185.02,228.78 183.58,227.55 185.47,227.40" fill="#000"/>
<polygon points="221.70,225.65 222.43,227.40 224.32,227.55 222.88,228.78 223.32,230.62 221.70,229.64 220.08,230.62 220.52,228.78 219.08,227.55 220.97,227.40" fill="#000"/>
<text x="154.50" y="270.50" font-size="10.5" text-anchor="middle" font-family='"Liberation Serif", serif' font-weight="bold" fill="#000" stroke="#000" stroke-width="0.22" textLength="72.00" lengthAdjust="spacingAndGlyphs" transform="rotate(-90 154.50 270.50)">Numbers (<tspan font-size="13.5">×</tspan>10<tspan font-size="6.51" dy="-3.99">5</tspan><tspan dy="3.99">)</tspan></text>
<text x="252.90" y="270.40" font-size="10.5" text-anchor="middle" font-family='"Liberation Serif", serif' font-weight="bold" fill="#000" stroke="#000" stroke-width="0.22" textLength="70.60" lengthAdjust="spacingAndGlyphs" transform="rotate(90 252.90 270.40)">Percentages (%)</text>
<text x="203.20" y="329.40" font-size="10.5" text-anchor="middle" font-family='"Liberation Serif", serif' font-weight="bold" fill="#000" stroke="#000" stroke-width="0.22" textLength="38.40" lengthAdjust="spacingAndGlyphs">Intestine</text>
<!--D-->
<text x="-0.40" y="378.80" font-size="17.7" text-anchor="start" font-family='"Liberation Sans", sans-serif' font-weight="bold" fill="#000">D</text>
<text x="104.20" y="398.40" font-size="10.5" text-anchor="end" font-family='"Liberation Serif", serif' font-weight="bold" fill="#000" stroke="#000" stroke-width="0.22" textLength="59.60" lengthAdjust="spacingAndGlyphs">Mig (CXCL9)</text>
<text x="104.20" y="417.85" font-size="10.5" text-anchor="end" font-family='"Liberation Serif", serif' font-weight="bold" fill="#000" stroke="#000" stroke-width="0.22" textLength="70.40" lengthAdjust="spacingAndGlyphs">IP-10 (CXCL10)</text>
<text x="104.20" y="437.30" font-size="10.5" text-anchor="end" font-family='"Liberation Serif", serif' font-weight="bold" fill="#000" stroke="#000" stroke-width="0.22" textLength="75.20" lengthAdjust="spacingAndGlyphs">I-TAC (CXCL11)</text>
<text x="104.20" y="456.75" font-size="10.5" text-anchor="end" font-family='"Liberation Serif", serif' font-weight="bold" fill="#000" stroke="#000" stroke-width="0.22" textLength="68.80" lengthAdjust="spacingAndGlyphs">MIP-1α (CCL3)</text>
<text x="104.20" y="476.20" font-size="10.5" text-anchor="end" font-family='"Liberation Serif", serif' font-weight="bold" fill="#000" stroke="#000" stroke-width="0.22" textLength="64.40" lengthAdjust="spacingAndGlyphs">MCP-1 (CCL2)</text>
<text x="104.20" y="495.65" font-size="10.5" text-anchor="end" font-family='"Liberation Serif", serif' font-weight="bold" fill="#000" stroke="#000" stroke-width="0.22" textLength="73.60" lengthAdjust="spacingAndGlyphs">RANTES (CCL5)</text>
<text x="104.20" y="515.10" font-size="10.5" text-anchor="end" font-family='"Liberation Serif", serif' font-weight="bold" fill="#000" stroke="#000" stroke-width="0.22" textLength="47.70" lengthAdjust="spacingAndGlyphs">E-cadherin</text>
<text x="104.20" y="534.55" font-size="10.5" text-anchor="end" font-family='"Liberation Serif", serif' font-weight="bold" fill="#000" stroke="#000" stroke-width="0.22" textLength="36.10" lengthAdjust="spacingAndGlyphs">ICAM-1</text>
<text x="104.20" y="554.00" font-size="10.5" text-anchor="end" font-family='"Liberation Serif", serif' font-weight="bold" fill="#000" stroke="#000" stroke-width="0.22" textLength="38.60" lengthAdjust="spacingAndGlyphs">VCAM-1</text>
<line x1="158.50" y1="390.95" x2="183.00" y2="390.95" stroke="#000" stroke-width="1.1"/>
<line x1="183.00" y1="388.35" x2="183.00" y2="393.55" stroke="#000" stroke-width="1.1"/>
<line x1="165.20" y1="397.75" x2="181.50" y2="397.75" stroke="#000" stroke-width="1.1"/>
<line x1="181.50" y1="395.15" x2="181.50" y2="400.35" stroke="#000" stroke-width="1.1"/>
<rect x="111.90" y="388.30" width="46.00" height="5.90" fill="#fff" stroke="#000" stroke-width="1.2"/>
<rect x="111.90" y="394.20" width="53.30" height="7.10" fill="#000"/>
<line x1="109.10" y1="394.60" x2="111.90" y2="394.60" stroke="#000" stroke-width="1.4"/>
<line x1="193.80" y1="410.40" x2="213.20" y2="410.40" stroke="#000" stroke-width="1.1"/>
<line x1="213.20" y1="407.80" x2="213.20" y2="413.00" stroke="#000" stroke-width="1.1"/>
<line x1="188.30" y1="417.20" x2="215.40" y2="417.20" stroke="#000" stroke-width="1.1"/>
<line x1="215.40" y1="414.60" x2="215.40" y2="419.80" stroke="#000" stroke-width="1.1"/>
<rect x="111.90" y="407.75" width="81.30" height="5.90" fill="#fff" stroke="#000" stroke-width="1.2"/>
<rect x="111.90" y="413.65" width="76.40" height="7.10" fill="#000"/>
<line x1="109.10" y1="414.05" x2="111.90" y2="414.05" stroke="#000" stroke-width="1.4"/>
<line x1="157.80" y1="429.85" x2="163.00" y2="429.85" stroke="#000" stroke-width="1.1"/>
<line x1="163.00" y1="427.25" x2="163.00" y2="432.45" stroke="#000" stroke-width="1.1"/>
<line x1="174.80" y1="436.65" x2="193.00" y2="436.65" stroke="#000" stroke-width="1.1"/>
<line x1="193.00" y1="434.05" x2="193.00" y2="439.25" stroke="#000" stroke-width="1.1"/>
<rect x="111.90" y="427.20" width="45.30" height="5.90" fill="#fff" stroke="#000" stroke-width="1.2"/>
<rect x="111.90" y="433.10" width="62.90" height="7.10" fill="#000"/>
<line x1="109.10" y1="433.50" x2="111.90" y2="433.50" stroke="#000" stroke-width="1.4"/>
<line x1="143.00" y1="449.30" x2="153.80" y2="449.30" stroke="#000" stroke-width="1.1"/>
<line x1="153.80" y1="446.70" x2="153.80" y2="451.90" stroke="#000" stroke-width="1.1"/>
<line x1="160.00" y1="456.10" x2="167.70" y2="456.10" stroke="#000" stroke-width="1.1"/>
<line x1="167.70" y1="453.50" x2="167.70" y2="458.70" stroke="#000" stroke-width="1.1"/>
<rect x="111.90" y="446.65" width="30.50" height="5.90" fill="#fff" stroke="#000" stroke-width="1.2"/>
<rect x="111.90" y="452.55" width="48.10" height="7.10" fill="#000"/>
<line x1="109.10" y1="452.95" x2="111.90" y2="452.95" stroke="#000" stroke-width="1.4"/>
<line x1="150.80" y1="468.75" x2="164.60" y2="468.75" stroke="#000" stroke-width="1.1"/>
<line x1="164.60" y1="466.15" x2="164.60" y2="471.35" stroke="#000" stroke-width="1.1"/>
<line x1="145.50" y1="475.55" x2="156.30" y2="475.55" stroke="#000" stroke-width="1.1"/>
<line x1="156.30" y1="472.95" x2="156.30" y2="478.15" stroke="#000" stroke-width="1.1"/>
<rect x="111.90" y="466.10" width="38.30" height="5.90" fill="#fff" stroke="#000" stroke-width="1.2"/>
<rect x="111.90" y="472.00" width="33.60" height="7.10" fill="#000"/>
<line x1="109.10" y1="472.40" x2="111.90" y2="472.40" stroke="#000" stroke-width="1.4"/>
<line x1="132.30" y1="488.20" x2="138.50" y2="488.20" stroke="#000" stroke-width="1.1"/>
<line x1="138.50" y1="485.60" x2="138.50" y2="490.80" stroke="#000" stroke-width="1.1"/>
<line x1="139.40" y1="495.00" x2="146.80" y2="495.00" stroke="#000" stroke-width="1.1"/>
<line x1="146.80" y1="492.40" x2="146.80" y2="497.60" stroke="#000" stroke-width="1.1"/>
<rect x="111.90" y="485.55" width="19.80" height="5.90" fill="#fff" stroke="#000" stroke-width="1.2"/>
<rect x="111.90" y="491.45" width="27.50" height="7.10" fill="#000"/>
<line x1="109.10" y1="491.85" x2="111.90" y2="491.85" stroke="#000" stroke-width="1.4"/>
<line x1="134.50" y1="507.65" x2="141.50" y2="507.65" stroke="#000" stroke-width="1.1"/>
<line x1="141.50" y1="505.05" x2="141.50" y2="510.25" stroke="#000" stroke-width="1.1"/>
<line x1="137.00" y1="514.45" x2="145.20" y2="514.45" stroke="#000" stroke-width="1.1"/>
<line x1="145.20" y1="511.85" x2="145.20" y2="517.05" stroke="#000" stroke-width="1.1"/>
<rect x="111.90" y="505.00" width="22.00" height="5.90" fill="#fff" stroke="#000" stroke-width="1.2"/>
<rect x="111.90" y="510.90" width="25.10" height="7.10" fill="#000"/>
<line x1="109.10" y1="511.30" x2="111.90" y2="511.30" stroke="#000" stroke-width="1.4"/>
<line x1="132.30" y1="527.10" x2="141.50" y2="527.10" stroke="#000" stroke-width="1.1"/>
<line x1="141.50" y1="524.50" x2="141.50" y2="529.70" stroke="#000" stroke-width="1.1"/>
<line x1="139.40" y1="533.90" x2="148.30" y2="533.90" stroke="#000" stroke-width="1.1"/>
<line x1="148.30" y1="531.30" x2="148.30" y2="536.50" stroke="#000" stroke-width="1.1"/>
<rect x="111.90" y="524.45" width="19.80" height="5.90" fill="#fff" stroke="#000" stroke-width="1.2"/>
<rect x="111.90" y="530.35" width="27.50" height="7.10" fill="#000"/>
<line x1="109.10" y1="530.75" x2="111.90" y2="530.75" stroke="#000" stroke-width="1.4"/>
<line x1="132.30" y1="546.55" x2="139.00" y2="546.55" stroke="#000" stroke-width="1.1"/>
<line x1="139.00" y1="543.95" x2="139.00" y2="549.15" stroke="#000" stroke-width="1.1"/>
<line x1="139.40" y1="553.35" x2="150.80" y2="553.35" stroke="#000" stroke-width="1.1"/>
<line x1="150.80" y1="550.75" x2="150.80" y2="555.95" stroke="#000" stroke-width="1.1"/>
<rect x="111.90" y="543.90" width="19.80" height="5.90" fill="#fff" stroke="#000" stroke-width="1.2"/>
<rect x="111.90" y="549.80" width="27.50" height="7.10" fill="#000"/>
<line x1="109.10" y1="550.20" x2="111.90" y2="550.20" stroke="#000" stroke-width="1.4"/>
<line x1="344.80" y1="390.95" x2="360.20" y2="390.95" stroke="#000" stroke-width="1.1"/>
<line x1="360.20" y1="388.35" x2="360.20" y2="393.55" stroke="#000" stroke-width="1.1"/>
<line x1="334.90" y1="397.75" x2="358.30" y2="397.75" stroke="#000" stroke-width="1.1"/>
<line x1="358.30" y1="395.15" x2="358.30" y2="400.35" stroke="#000" stroke-width="1.1"/>
<rect x="272.40" y="388.30" width="71.80" height="5.90" fill="#fff" stroke="#000" stroke-width="1.2"/>
<rect x="272.40" y="394.20" width="62.50" height="7.10" fill="#000"/>
<line x1="269.60" y1="394.60" x2="272.40" y2="394.60" stroke="#000" stroke-width="1.4"/>
<line x1="338.10" y1="410.40" x2="354.20" y2="410.40" stroke="#000" stroke-width="1.1"/>
<line x1="354.20" y1="407.80" x2="354.20" y2="413.00" stroke="#000" stroke-width="1.1"/>
<line x1="351.00" y1="417.20" x2="381.70" y2="417.20" stroke="#000" stroke-width="1.1"/>
<line x1="381.70" y1="414.60" x2="381.70" y2="419.80" stroke="#000" stroke-width="1.1"/>
<rect x="272.40" y="407.75" width="65.10" height="5.90" fill="#fff" stroke="#000" stroke-width="1.2"/>
<rect x="272.40" y="413.65" width="78.60" height="7.10" fill="#000"/>
<line x1="269.60" y1="414.05" x2="272.40" y2="414.05" stroke="#000" stroke-width="1.4"/>
<line x1="284.80" y1="429.85" x2="287.00" y2="429.85" stroke="#000" stroke-width="1.1"/>
<line x1="287.00" y1="427.25" x2="287.00" y2="432.45" stroke="#000" stroke-width="1.1"/>
<line x1="283.70" y1="436.65" x2="287.00" y2="436.65" stroke="#000" stroke-width="1.1"/>
<line x1="287.00" y1="434.05" x2="287.00" y2="439.25" stroke="#000" stroke-width="1.1"/>
<rect x="272.40" y="427.20" width="11.80" height="5.90" fill="#fff" stroke="#000" stroke-width="1.2"/>
<rect x="272.40" y="433.10" width="11.30" height="7.10" fill="#000"/>
<line x1="269.60" y1="433.50" x2="272.40" y2="433.50" stroke="#000" stroke-width="1.4"/>
<line x1="352.90" y1="449.30" x2="391.10" y2="449.30" stroke="#000" stroke-width="1.1"/>
<line x1="391.10" y1="446.70" x2="391.10" y2="451.90" stroke="#000" stroke-width="1.1"/>
<line x1="350.20" y1="456.10" x2="367.20" y2="456.10" stroke="#000" stroke-width="1.1"/>
<line x1="367.20" y1="453.50" x2="367.20" y2="458.70" stroke="#000" stroke-width="1.1"/>
<rect x="272.40" y="446.65" width="79.90" height="5.90" fill="#fff" stroke="#000" stroke-width="1.2"/>
<rect x="272.40" y="452.55" width="77.80" height="7.10" fill="#000"/>
<line x1="269.60" y1="452.95" x2="272.40" y2="452.95" stroke="#000" stroke-width="1.4"/>
<line x1="300.90" y1="468.75" x2="309.70" y2="468.75" stroke="#000" stroke-width="1.1"/>
<line x1="309.70" y1="466.15" x2="309.70" y2="471.35" stroke="#000" stroke-width="1.1"/>
<line x1="300.90" y1="475.55" x2="315.00" y2="475.55" stroke="#000" stroke-width="1.1"/>
<line x1="315.00" y1="472.95" x2="315.00" y2="478.15" stroke="#000" stroke-width="1.1"/>
<rect x="272.40" y="466.10" width="27.90" height="5.90" fill="#fff" stroke="#000" stroke-width="1.2"/>
<rect x="272.40" y="472.00" width="28.50" height="7.10" fill="#000"/>
<line x1="269.60" y1="472.40" x2="272.40" y2="472.40" stroke="#000" stroke-width="1.4"/>
<line x1="314.90" y1="488.20" x2="330.30" y2="488.20" stroke="#000" stroke-width="1.1"/>
<line x1="330.30" y1="485.60" x2="330.30" y2="490.80" stroke="#000" stroke-width="1.1"/>
<line x1="325.40" y1="495.00" x2="345.60" y2="495.00" stroke="#000" stroke-width="1.1"/>
<line x1="345.60" y1="492.40" x2="345.60" y2="497.60" stroke="#000" stroke-width="1.1"/>
<rect x="272.40" y="485.55" width="41.90" height="5.90" fill="#fff" stroke="#000" stroke-width="1.2"/>
<rect x="272.40" y="491.45" width="53.00" height="7.10" fill="#000"/>
<line x1="269.60" y1="491.85" x2="272.40" y2="491.85" stroke="#000" stroke-width="1.4"/>
<line x1="304.10" y1="507.65" x2="312.30" y2="507.65" stroke="#000" stroke-width="1.1"/>
<line x1="312.30" y1="505.05" x2="312.30" y2="510.25" stroke="#000" stroke-width="1.1"/>
<line x1="305.80" y1="514.45" x2="316.20" y2="514.45" stroke="#000" stroke-width="1.1"/>
<line x1="316.20" y1="511.85" x2="316.20" y2="517.05" stroke="#000" stroke-width="1.1"/>
<rect x="272.40" y="505.00" width="31.10" height="5.90" fill="#fff" stroke="#000" stroke-width="1.2"/>
<rect x="272.40" y="510.90" width="33.40" height="7.10" fill="#000"/>
<line x1="269.60" y1="511.30" x2="272.40" y2="511.30" stroke="#000" stroke-width="1.4"/>
<line x1="308.40" y1="527.10" x2="316.20" y2="527.10" stroke="#000" stroke-width="1.1"/>
<line x1="316.20" y1="524.50" x2="316.20" y2="529.70" stroke="#000" stroke-width="1.1"/>
<line x1="307.40" y1="533.90" x2="318.20" y2="533.90" stroke="#000" stroke-width="1.1"/>
<line x1="318.20" y1="531.30" x2="318.20" y2="536.50" stroke="#000" stroke-width="1.1"/>
<rect x="272.40" y="524.45" width="35.40" height="5.90" fill="#fff" stroke="#000" stroke-width="1.2"/>
<rect x="272.40" y="530.35" width="35.00" height="7.10" fill="#000"/>
<line x1="269.60" y1="530.75" x2="272.40" y2="530.75" stroke="#000" stroke-width="1.4"/>
<line x1="297.60" y1="546.55" x2="304.80" y2="546.55" stroke="#000" stroke-width="1.1"/>
<line x1="304.80" y1="543.95" x2="304.80" y2="549.15" stroke="#000" stroke-width="1.1"/>
<line x1="296.60" y1="553.35" x2="304.80" y2="553.35" stroke="#000" stroke-width="1.1"/>
<line x1="304.80" y1="550.75" x2="304.80" y2="555.95" stroke="#000" stroke-width="1.1"/>
<rect x="272.40" y="543.90" width="24.60" height="5.90" fill="#fff" stroke="#000" stroke-width="1.2"/>
<rect x="272.40" y="549.80" width="24.20" height="7.10" fill="#000"/>
<line x1="269.60" y1="550.20" x2="272.40" y2="550.20" stroke="#000" stroke-width="1.4"/>
<line x1="111.90" y1="383.60" x2="111.90" y2="561.00" stroke="#000" stroke-width="1.4"/>
<line x1="111.30" y1="560.40" x2="252.80" y2="560.40" stroke="#000" stroke-width="1.4"/>
<line x1="111.90" y1="560.40" x2="111.90" y2="563.00" stroke="#000" stroke-width="1.4"/>
<text x="111.90" y="574.10" font-size="10.5" text-anchor="middle" font-family='"Liberation Serif", serif' font-weight="bold" fill="#000" stroke="#000" stroke-width="0.22">0</text>
<line x1="140.00" y1="560.40" x2="140.00" y2="563.00" stroke="#000" stroke-width="1.4"/>
<text x="140.00" y="574.10" font-size="10.5" text-anchor="middle" font-family='"Liberation Serif", serif' font-weight="bold" fill="#000" stroke="#000" stroke-width="0.22">3</text>
<line x1="168.10" y1="560.40" x2="168.10" y2="563.00" stroke="#000" stroke-width="1.4"/>
<text x="168.10" y="574.10" font-size="10.5" text-anchor="middle" font-family='"Liberation Serif", serif' font-weight="bold" fill="#000" stroke="#000" stroke-width="0.22">6</text>
<line x1="196.20" y1="560.40" x2="196.20" y2="563.00" stroke="#000" stroke-width="1.4"/>
<text x="196.20" y="574.10" font-size="10.5" text-anchor="middle" font-family='"Liberation Serif", serif' font-weight="bold" fill="#000" stroke="#000" stroke-width="0.22">9</text>
<line x1="224.30" y1="560.40" x2="224.30" y2="563.00" stroke="#000" stroke-width="1.4"/>
<text x="224.30" y="574.10" font-size="10.5" text-anchor="middle" font-family='"Liberation Serif", serif' font-weight="bold" fill="#000" stroke="#000" stroke-width="0.22">12</text>
<line x1="252.40" y1="560.40" x2="252.40" y2="563.00" stroke="#000" stroke-width="1.4"/>
<text x="252.40" y="574.10" font-size="10.5" text-anchor="middle" font-family='"Liberation Serif", serif' font-weight="bold" fill="#000" stroke="#000" stroke-width="0.22">15</text>
<line x1="272.40" y1="383.60" x2="272.40" y2="560.60" stroke="#000" stroke-width="1.4"/>
<line x1="271.80" y1="560.00" x2="414.30" y2="560.00" stroke="#000" stroke-width="1.4"/>
<line x1="272.40" y1="560.00" x2="272.40" y2="562.60" stroke="#000" stroke-width="1.4"/>
<text x="272.40" y="574.40" font-size="10.5" text-anchor="middle" font-family='"Liberation Serif", serif' font-weight="bold" fill="#000" stroke="#000" stroke-width="0.22">0</text>
<line x1="307.75" y1="560.00" x2="307.75" y2="562.60" stroke="#000" stroke-width="1.4"/>
<text x="307.75" y="574.40" font-size="10.5" text-anchor="middle" font-family='"Liberation Serif", serif' font-weight="bold" fill="#000" stroke="#000" stroke-width="0.22">2</text>
<line x1="343.10" y1="560.00" x2="343.10" y2="562.60" stroke="#000" stroke-width="1.4"/>
<text x="343.10" y="574.40" font-size="10.5" text-anchor="middle" font-family='"Liberation Serif", serif' font-weight="bold" fill="#000" stroke="#000" stroke-width="0.22">4</text>
<line x1="378.45" y1="560.00" x2="378.45" y2="562.60" stroke="#000" stroke-width="1.4"/>
<text x="378.45" y="574.40" font-size="10.5" text-anchor="middle" font-family='"Liberation Serif", serif' font-weight="bold" fill="#000" stroke="#000" stroke-width="0.22">6</text>
<line x1="413.80" y1="560.00" x2="413.80" y2="562.60" stroke="#000" stroke-width="1.4"/>
<text x="413.80" y="574.40" font-size="10.5" text-anchor="middle" font-family='"Liberation Serif", serif' font-weight="bold" fill="#000" stroke="#000" stroke-width="0.22">8</text>
<text x="182.50" y="378.00" font-size="10.5" text-anchor="middle" font-family='"Liberation Serif", serif' font-weight="bold" fill="#000" stroke="#000" stroke-width="0.22">Liver</text>
<text x="344.00" y="377.60" font-size="10.5" text-anchor="middle" font-family='"Liberation Serif", serif' font-weight="bold" fill="#000" stroke="#000" stroke-width="0.22">Intestine</text>
<line x1="109.20" y1="584.00" x2="184.60" y2="584.00" stroke="#000" stroke-width="1.3"/>
<text x="201.70" y="587.00" font-size="10.5" text-anchor="start" font-family='"Liberation Serif", serif' font-weight="bold" fill="#000" stroke="#000" stroke-width="0.22" textLength="150.70" lengthAdjust="spacingAndGlyphs">Relative mRNA expression (fold)</text>
<line x1="366.70" y1="583.70" x2="414.50" y2="583.70" stroke="#000" stroke-width="1.2"/>
<polygon points="417.8,583.7 411.5,581.4 411.5,586.0" fill="#000"/>
<rect x="421.15" y="390.65" width="13.60" height="4.30" fill="#fff" stroke="#000" stroke-width="1.3"/>
<rect x="420.50" y="403.80" width="14.90" height="5.80" fill="#000"/>
<text x="441.50" y="396.70" font-size="10.5" text-anchor="start" font-family='"Liberation Serif", serif' font-weight="bold" fill="#000" stroke="#000" stroke-width="0.22">IgG</text>
<text x="441.50" y="410.20" font-size="10.5" text-anchor="start" font-family='"Liberation Serif", serif' font-weight="bold" fill="#000" stroke="#000" stroke-width="0.22">αOPN</text>
<!--E-->
<text x="-1.30" y="627.00" font-size="17.7" text-anchor="start" font-family='"Liberation Sans", sans-serif' font-weight="bold" fill="#000">E</text>
<line x1="83.00" y1="623.70" x2="168.00" y2="623.70" stroke="#000" stroke-width="1.4" stroke-dasharray="3.8,2.66"/>
<line x1="211.00" y1="623.70" x2="387.00" y2="623.70" stroke="#000" stroke-width="1.4" stroke-dasharray="3.8,2.66"/>
<line x1="423.00" y1="623.70" x2="511.00" y2="623.70" stroke="#000" stroke-width="1.4" stroke-dasharray="3.8,2.66"/>
<line x1="83.70" y1="827.60" x2="511.00" y2="827.60" stroke="#000" stroke-width="1.4" stroke-dasharray="3.8,2.66"/>
<line x1="83.70" y1="623.70" x2="83.70" y2="827.60" stroke="#000" stroke-width="1.4" stroke-dasharray="3.8,2.66"/>
<line x1="511.00" y1="623.70" x2="511.00" y2="827.60" stroke="#000" stroke-width="1.4" stroke-dasharray="3.8,2.66"/>
<line x1="297.20" y1="623.70" x2="297.20" y2="827.60" stroke="#000" stroke-width="1.4" stroke-dasharray="3.8,2.66"/>
<text x="189.50" y="627.30" font-size="10.5" text-anchor="middle" font-family='"Liberation Serif", serif' font-weight="bold" fill="#000" stroke="#000" stroke-width="0.22" textLength="35.50" lengthAdjust="spacingAndGlyphs">CXCR3</text>
<text x="405.30" y="627.30" font-size="10.5" text-anchor="middle" font-family='"Liberation Serif", serif' font-weight="bold" fill="#000" stroke="#000" stroke-width="0.22" textLength="29.00" lengthAdjust="spacingAndGlyphs">CCR5</text>
<text x="53.80" y="661.20" font-size="10.5" text-anchor="middle" font-family='"Liberation Serif", serif' font-weight="bold" fill="#000" stroke="#000" stroke-width="0.22">Naïve CD8<tspan font-size="6.51" dy="-3.99">+</tspan><tspan dy="3.99">&#8203;</tspan></text>
<text x="53.80" y="673.30" font-size="10.5" text-anchor="middle" font-family='"Liberation Serif", serif' font-weight="bold" fill="#000" stroke="#000" stroke-width="0.22">T cells</text>
<text x="49.00" y="726.70" font-size="10.5" text-anchor="middle" font-family='"Liberation Serif", serif' font-weight="bold" fill="#000" stroke="#000" stroke-width="0.22" textLength="52.70" lengthAdjust="spacingAndGlyphs">IgG-treated</text>
<text x="48.60" y="739.30" font-size="10.5" text-anchor="middle" font-family='"Liberation Serif", serif' font-weight="bold" fill="#000" stroke="#000" stroke-width="0.22" textLength="56.70" lengthAdjust="spacingAndGlyphs">CD8<tspan font-size="6.51" dy="-3.99">+</tspan><tspan dy="3.99"> T cells</tspan></text>
<text x="44.00" y="790.20" font-size="10.5" text-anchor="middle" font-family='"Liberation Serif", serif' font-weight="bold" fill="#000" stroke="#000" stroke-width="0.22" textLength="65.00" lengthAdjust="spacingAndGlyphs">αOPN-treated</text>
<text x="44.50" y="802.20" font-size="10.5" text-anchor="middle" font-family='"Liberation Serif", serif' font-weight="bold" fill="#000" stroke="#000" stroke-width="0.22" textLength="56.40" lengthAdjust="spacingAndGlyphs">CD8<tspan font-size="6.51" dy="-3.99">+</tspan><tspan dy="3.99"> T cells</tspan></text>
<text x="120.20" y="701.20" font-size="10.5" text-anchor="middle" font-family='"Liberation Serif", serif' font-weight="bold" fill="#000" stroke="#000" stroke-width="0.22" textLength="29.50" lengthAdjust="spacingAndGlyphs">Spleen</text>
<text x="191.30" y="701.20" font-size="10.5" text-anchor="middle" font-family='"Liberation Serif", serif' font-weight="bold" fill="#000" stroke="#000" stroke-width="0.22" textLength="23.30" lengthAdjust="spacingAndGlyphs">Liver</text>
<text x="259.40" y="701.20" font-size="10.5" text-anchor="middle" font-family='"Liberation Serif", serif' font-weight="bold" fill="#000" stroke="#000" stroke-width="0.22" textLength="38.40" lengthAdjust="spacingAndGlyphs">Intestine</text>
<text x="337.80" y="701.20" font-size="10.5" text-anchor="middle" font-family='"Liberation Serif", serif' font-weight="bold" fill="#000" stroke="#000" stroke-width="0.22" textLength="29.50" lengthAdjust="spacingAndGlyphs">Spleen</text>
<text x="407.70" y="701.20" font-size="10.5" text-anchor="middle" font-family='"Liberation Serif", serif' font-weight="bold" fill="#000" stroke="#000" stroke-width="0.22" textLength="23.30" lengthAdjust="spacingAndGlyphs">Liver</text>
<text x="473.00" y="701.20" font-size="10.5" text-anchor="middle" font-family='"Liberation Serif", serif' font-weight="bold" fill="#000" stroke="#000" stroke-width="0.22" textLength="38.40" lengthAdjust="spacingAndGlyphs">Intestine</text>
<rect x="158.80" y="633.60" width="62.30" height="53.70" fill="#fff" stroke="#8a8a8a" stroke-width="1"/>
<polygon points="159.30,686.80 159.30,666.52 159.80,660.81 160.30,653.89 160.81,652.05 161.31,647.92 161.81,647.42 162.31,648.87 162.82,646.92 163.32,647.62 163.82,647.72 164.32,651.11 164.83,651.11 165.33,638.52 165.83,635.38 166.33,645.51 166.84,648.82 167.34,638.71 167.84,635.38 168.34,643.95 168.85,648.18 169.35,650.22 169.85,655.53 170.35,656.40 170.86,661.22 171.36,668.18 171.86,669.46 172.36,666.18 172.87,665.09 173.37,668.58 173.87,669.44 174.37,670.39 174.88,673.28 175.38,676.13 175.88,679.46 176.38,681.30 176.89,681.08 177.39,681.33 177.89,682.80 178.39,683.85 178.90,684.54 179.40,685.43 179.90,685.90 180.40,686.21 180.91,686.52 181.41,686.80 181.91,686.80 182.41,686.80 182.92,686.80 183.42,686.80 183.92,686.80 184.42,686.80 184.93,686.80 185.43,686.80 185.93,686.80 186.43,686.80 186.94,686.80 187.44,686.80 187.94,686.80 188.44,686.80 188.95,686.80 189.45,686.80 189.95,686.80 190.45,686.80 190.95,686.80 191.46,686.80 191.96,686.80 192.46,686.80 192.96,686.80 193.47,686.80 193.97,686.80 194.47,686.80 194.97,686.80 195.48,686.80 195.98,686.80 196.48,686.80 196.98,686.80 197.49,686.80 197.99,686.80 198.49,686.80 198.99,686.80 199.50,686.80 200.00,686.80 200.50,686.80 201.00,686.80 201.51,686.80 202.01,686.80 202.51,686.80 203.01,686.80 203.52,686.80 204.02,686.80 204.52,686.80 205.02,686.80 205.53,686.80 206.03,686.80 206.53,686.80 207.03,686.80 207.54,686.80 208.04,686.80 208.54,686.80 209.04,686.80 209.55,686.80 210.05,686.80 210.55,686.80 211.05,686.80 211.56,686.80 212.06,686.80 212.56,686.80 213.06,686.80 213.57,686.80 214.07,686.80 214.57,686.80 215.07,686.80 215.58,686.80 216.08,686.80 216.58,686.80 217.08,686.80 217.59,686.80 218.09,686.80 218.59,686.80 219.09,686.80 219.60,686.80 220.10,686.80 220.60,686.80 220.60,686.80" fill="#b4b4b4"/>
<polygon points="159.30,686.80 159.30,663.40 159.80,661.83 160.30,658.84 160.81,654.69 161.31,651.48 161.81,649.13 162.31,649.24 162.82,649.58 163.32,647.69 163.82,645.12 164.32,643.85 164.83,642.05 165.33,636.68 165.83,638.16 166.33,645.61 166.84,648.66 167.34,649.42 167.84,652.19 168.34,653.39 168.85,650.59 169.35,651.12 169.85,655.99 170.35,660.52 170.86,664.33 171.36,666.08 171.86,666.35 172.36,666.25 172.87,667.05 173.37,670.63 173.87,672.21 174.37,671.62 174.88,673.86 175.38,676.54 175.88,678.04 176.38,679.54 176.89,680.18 177.39,680.94 177.89,682.35 178.39,683.65 178.90,684.78 179.40,685.53 179.90,685.97 180.40,686.25 180.91,686.54 181.41,686.80 181.91,686.80 182.41,686.80 182.92,686.80 183.42,686.80 183.92,686.80 184.42,686.80 184.93,686.80 185.43,686.80 185.93,686.80 186.43,686.80 186.94,686.80 187.44,686.80 187.94,686.80 188.44,686.80 188.95,686.80 189.45,686.80 189.95,686.80 190.45,686.80 190.95,686.80 191.46,686.80 191.96,686.80 192.46,686.80 192.96,686.80 193.47,686.80 193.97,686.80 194.47,686.80 194.97,686.80 195.48,686.80 195.98,686.80 196.48,686.80 196.98,686.80 197.49,686.80 197.99,686.80 198.49,686.80 198.99,686.80 199.50,686.80 200.00,686.80 200.50,686.80 201.00,686.80 201.51,686.80 202.01,686.80 202.51,686.80 203.01,686.80 203.52,686.80 204.02,686.80 204.52,686.80 205.02,686.80 205.53,686.80 206.03,686.80 206.53,686.80 207.03,686.80 207.54,686.80 208.04,686.80 208.54,686.80 209.04,686.80 209.55,686.80 210.05,686.80 210.55,686.80 211.05,686.80 211.56,686.80 212.06,686.80 212.56,686.80 213.06,686.80 213.57,686.80 214.07,686.80 214.57,686.80 215.07,686.80 215.58,686.80 216.08,686.80 216.58,686.80 217.08,686.80 217.59,686.80 218.09,686.80 218.59,686.80 219.09,686.80 219.60,686.80 220.10,686.80 220.60,686.80 220.60,686.80" fill="#979797"/>
<polyline points="159.30,681.41 159.80,677.72 160.30,676.68 160.81,671.52 161.31,671.06 161.81,668.20 162.31,665.59 162.82,667.71 163.32,661.03 163.82,660.01 164.32,659.89 164.83,650.89 165.33,660.23 165.83,651.97 166.33,641.71 166.84,638.20 167.34,643.45 167.84,643.19 168.34,645.92 168.85,645.94 169.35,657.92 169.85,653.19 170.35,658.59 170.86,659.56 171.36,655.24 171.86,659.71 172.36,660.72 172.87,660.59 173.37,661.14 173.87,666.95 174.37,667.36 174.88,669.87 175.38,671.73 175.88,673.18 176.38,676.70 176.89,678.75 177.39,681.26 177.89,682.13 178.39,683.07 178.90,683.41 179.40,683.94 179.90,685.07 180.40,685.40 180.91,685.77 181.41,685.81 181.91,685.85 182.41,685.90 182.92,685.94 183.42,685.98 183.92,686.03 184.42,686.07 184.93,686.11 185.43,686.15 185.93,686.20 186.43,686.24 186.94,686.28 187.44,686.33 187.94,686.37 188.44,686.41 188.95,686.45 189.45,686.50 189.95,686.54 190.45,686.54 190.95,686.54 191.46,686.54 191.96,686.54 192.46,686.54 192.96,686.54 193.47,686.54 193.97,686.54 194.47,686.54 194.97,686.54 195.48,686.54 195.98,686.54 196.48,686.54 196.98,686.54 197.49,686.54 197.99,686.54 198.49,686.54 198.99,686.54 199.50,686.54 200.00,686.54 200.50,686.54 201.00,686.54 201.51,686.54 202.01,686.54 202.51,686.54 203.01,686.54 203.52,686.54 204.02,686.54 204.52,686.54 205.02,686.54 205.53,686.54 206.03,686.54 206.53,686.54 207.03,686.54 207.54,686.54 208.04,686.54 208.54,686.54 209.04,686.54 209.55,686.54 210.05,686.54 210.55,686.54 211.05,686.54 211.56,686.54 212.06,686.54 212.56,686.54 213.06,686.54 213.57,686.54 214.07,686.54 214.57,686.54 215.07,686.54 215.58,686.54 216.08,686.54 216.58,686.54 217.08,686.54 217.59,686.54 218.09,686.54 218.59,686.54 219.09,686.54 219.60,686.54 220.10,686.54 220.60,686.54" fill="none" stroke="#000" stroke-width="1.35" stroke-linejoin="round"/>
<rect x="373.50" y="629.70" width="63.30" height="55.20" fill="#fff" stroke="#8a8a8a" stroke-width="1"/>
<polygon points="374.00,684.40 374.00,665.07 374.50,660.67 375.00,659.96 375.51,660.14 376.01,659.98 376.51,660.44 377.01,660.78 377.52,660.02 378.02,654.18 378.52,642.75 379.02,640.47 379.53,644.64 380.03,635.23 380.53,631.51 381.03,634.72 381.54,631.81 382.04,631.51 382.54,631.51 383.04,631.51 383.55,631.51 384.05,631.51 384.55,631.51 385.05,631.51 385.56,631.51 386.06,631.51 386.56,631.51 387.06,639.47 387.57,648.17 388.07,656.36 388.57,663.09 389.07,666.60 389.57,665.09 390.08,663.69 390.58,667.79 391.08,672.63 391.58,672.49 392.09,670.15 392.59,671.29 393.09,675.56 393.59,678.79 394.10,680.23 394.60,680.83 395.10,681.65 395.60,682.62 396.11,682.94 396.61,683.41 397.11,683.88 397.61,684.34 398.12,684.40 398.62,684.40 399.12,684.40 399.62,684.40 400.13,684.40 400.63,684.40 401.13,684.40 401.63,684.40 402.14,684.40 402.64,684.40 403.14,684.40 403.64,684.40 404.15,684.40 404.65,684.40 405.15,684.40 405.65,684.40 406.15,684.40 406.66,684.40 407.16,684.40 407.66,684.40 408.16,684.40 408.67,684.40 409.17,684.40 409.67,684.40 410.17,684.40 410.68,684.40 411.18,684.40 411.68,684.40 412.18,684.40 412.69,684.40 413.19,684.40 413.69,684.40 414.19,684.40 414.70,684.40 415.20,684.40 415.70,684.40 416.20,684.40 416.71,684.40 417.21,684.40 417.71,684.40 418.21,684.40 418.72,684.40 419.22,684.40 419.72,684.40 420.22,684.40 420.73,684.40 421.23,684.40 421.73,684.40 422.23,684.40 422.73,684.40 423.24,684.40 423.74,684.40 424.24,684.40 424.74,684.40 425.25,684.40 425.75,684.40 426.25,684.40 426.75,684.40 427.26,684.40 427.76,684.40 428.26,684.40 428.76,684.40 429.27,684.40 429.77,684.40 430.27,684.40 430.77,684.40 431.28,684.40 431.78,684.40 432.28,684.40 432.78,684.40 433.29,684.40 433.79,684.40 434.29,684.40 434.79,684.40 435.30,684.40 435.80,684.40 436.30,684.40 436.30,684.40" fill="#b4b4b4"/>
<polygon points="374.00,684.40 374.00,663.04 374.50,661.41 375.00,660.96 375.51,661.91 376.01,661.09 376.51,656.72 377.01,652.43 377.52,650.76 378.02,650.54 378.52,652.01 379.02,651.34 379.53,645.34 380.03,638.06 380.53,634.51 381.03,635.93 381.54,638.29 382.04,637.58 382.54,636.25 383.04,637.84 383.55,636.77 384.05,633.53 384.55,633.92 385.05,631.51 385.56,633.43 386.06,642.97 386.56,644.27 387.06,641.49 387.57,644.33 388.07,651.72 388.57,657.92 389.07,659.37 389.57,660.49 390.08,664.46 390.58,667.63 391.08,669.82 391.58,670.58 392.09,672.14 392.59,674.92 393.09,676.80 393.59,678.01 394.10,678.92 394.60,680.21 395.10,681.40 395.60,682.28 396.11,683.05 396.61,683.48 397.11,683.91 397.61,684.35 398.12,684.40 398.62,684.40 399.12,684.40 399.62,684.40 400.13,684.40 400.63,684.40 401.13,684.40 401.63,684.40 402.14,684.40 402.64,684.40 403.14,684.40 403.64,684.40 404.15,684.40 404.65,684.40 405.15,684.40 405.65,684.40 406.15,684.40 406.66,684.40 407.16,684.40 407.66,684.40 408.16,684.40 408.67,684.40 409.17,684.40 409.67,684.40 410.17,684.40 410.68,684.40 411.18,684.40 411.68,684.40 412.18,684.40 412.69,684.40 413.19,684.40 413.69,684.40 414.19,684.40 414.70,684.40 415.20,684.40 415.70,684.40 416.20,684.40 416.71,684.40 417.21,684.40 417.71,684.40 418.21,684.40 418.72,684.40 419.22,684.40 419.72,684.40 420.22,684.40 420.73,684.40 421.23,684.40 421.73,684.40 422.23,684.40 422.73,684.40 423.24,684.40 423.74,684.40 424.24,684.40 424.74,684.40 425.25,684.40 425.75,684.40 426.25,684.40 426.75,684.40 427.26,684.40 427.76,684.40 428.26,684.40 428.76,684.40 429.27,684.40 429.77,684.40 430.27,684.40 430.77,684.40 431.28,684.40 431.78,684.40 432.28,684.40 432.78,684.40 433.29,684.40 433.79,684.40 434.29,684.40 434.79,684.40 435.30,684.40 435.80,684.40 436.30,684.40 436.30,684.40" fill="#979797"/>
<polyline points="374.00,668.33 374.50,665.40 375.00,661.47 375.51,658.00 376.01,651.95 376.51,650.43 377.01,650.63 377.52,645.28 378.02,656.63 378.52,648.98 379.02,644.35 379.53,637.70 380.03,645.85 380.53,643.68 381.03,643.69 381.54,640.54 382.04,639.27 382.54,631.51 383.04,631.51 383.55,631.51 384.05,645.45 384.55,644.72 385.05,633.49 385.56,632.37 386.06,642.00 386.56,642.17 387.06,653.40 387.57,649.60 388.07,644.60 388.57,648.67 389.07,651.01 389.57,652.48 390.08,663.50 390.58,667.84 391.08,670.59 391.58,671.55 392.09,673.37 392.59,675.19 393.09,678.55 393.59,680.17 394.10,680.58 394.60,681.54 395.10,681.98 395.60,682.91 396.11,682.89 396.61,683.07 397.11,683.24 397.61,683.41 398.12,683.59 398.62,683.76 399.12,683.86 399.62,683.87 400.13,683.87 400.63,683.88 401.13,683.88 401.63,683.88 402.14,683.89 402.64,683.89 403.14,683.89 403.64,683.90 404.15,683.90 404.65,683.90 405.15,683.91 405.65,683.91 406.15,683.91 406.66,683.92 407.16,683.92 407.66,683.93 408.16,683.93 408.67,683.93 409.17,683.94 409.67,683.94 410.17,683.94 410.68,683.95 411.18,683.95 411.68,683.95 412.18,683.96 412.69,683.96 413.19,683.97 413.69,683.97 414.19,683.97 414.70,683.98 415.20,683.98 415.70,683.98 416.20,683.99 416.71,683.99 417.21,683.99 417.71,684.00 418.21,684.00 418.72,684.01 419.22,684.01 419.72,684.01 420.22,684.02 420.73,684.02 421.23,684.02 421.73,684.03 422.23,684.03 422.73,684.03 423.24,684.04 423.74,684.04 424.24,684.04 424.74,684.05 425.25,684.05 425.75,684.06 426.25,684.06 426.75,684.06 427.26,684.07 427.76,684.07 428.26,684.07 428.76,684.08 429.27,684.08 429.77,684.08 430.27,684.09 430.77,684.09 431.28,684.10 431.78,684.10 432.28,684.10 432.78,684.11 433.29,684.11 433.79,684.11 434.29,684.12 434.79,684.12 435.30,684.12 435.80,684.13 436.30,684.13" fill="none" stroke="#000" stroke-width="1.35" stroke-linejoin="round"/>
<rect x="90.50" y="705.70" width="63.90" height="55.80" fill="#fff" stroke="#8a8a8a" stroke-width="1"/>
<polygon points="91.00,761.00 91.00,749.40 91.50,747.19 92.01,742.13 92.51,732.55 93.01,725.52 93.52,723.25 94.02,718.51 94.52,721.26 95.03,719.64 95.53,707.51 96.03,707.51 96.54,715.02 97.04,721.93 97.54,716.29 98.04,707.51 98.55,707.51 99.05,713.06 99.55,712.00 100.06,708.44 100.56,718.85 101.06,717.69 101.57,708.27 102.07,715.05 102.57,731.31 103.08,739.14 103.58,733.21 104.08,726.96 104.59,729.97 105.09,730.55 105.59,733.09 106.10,741.75 106.60,744.95 107.10,745.17 107.61,749.87 108.11,754.42 108.61,757.47 109.12,758.64 109.62,759.78 110.12,760.30 110.62,761.00 111.13,761.00 111.63,761.00 112.13,761.00 112.64,761.00 113.14,761.00 113.64,761.00 114.15,761.00 114.65,761.00 115.15,761.00 115.66,761.00 116.16,761.00 116.66,761.00 117.17,761.00 117.67,761.00 118.17,761.00 118.68,761.00 119.18,761.00 119.68,761.00 120.19,761.00 120.69,761.00 121.19,761.00 121.70,761.00 122.20,761.00 122.70,761.00 123.20,761.00 123.71,761.00 124.21,761.00 124.71,761.00 125.22,761.00 125.72,761.00 126.22,761.00 126.73,761.00 127.23,761.00 127.73,761.00 128.24,761.00 128.74,761.00 129.24,761.00 129.75,761.00 130.25,761.00 130.75,761.00 131.26,761.00 131.76,761.00 132.26,761.00 132.77,761.00 133.27,761.00 133.77,761.00 134.28,761.00 134.78,761.00 135.28,761.00 135.78,761.00 136.29,761.00 136.79,761.00 137.29,761.00 137.80,761.00 138.30,761.00 138.80,761.00 139.31,761.00 139.81,761.00 140.31,761.00 140.82,761.00 141.32,761.00 141.82,761.00 142.33,761.00 142.83,761.00 143.33,761.00 143.84,761.00 144.34,761.00 144.84,761.00 145.35,761.00 145.85,761.00 146.35,761.00 146.86,761.00 147.36,761.00 147.86,761.00 148.36,761.00 148.87,761.00 149.37,761.00 149.87,761.00 150.38,761.00 150.88,761.00 151.38,761.00 151.89,761.00 152.39,761.00 152.89,761.00 153.40,761.00 153.90,761.00 153.90,761.00" fill="#b4b4b4"/>
<polygon points="91.00,761.00 91.00,743.95 91.50,741.11 92.01,739.29 92.51,737.04 93.01,734.76 93.52,731.93 94.02,726.77 94.52,721.21 95.03,719.45 95.53,722.76 96.03,723.84 96.54,718.20 97.04,713.72 97.54,714.89 98.04,715.93 98.55,713.95 99.05,710.25 99.55,713.38 100.06,720.67 100.56,722.37 101.06,720.33 101.57,719.10 102.07,722.26 102.57,728.36 103.08,729.77 103.58,728.55 104.08,731.29 104.59,735.67 105.09,736.87 105.59,738.20 106.10,742.23 106.60,745.93 107.10,749.05 107.61,751.60 108.11,753.88 108.61,757.29 109.12,758.63 109.62,759.48 110.12,760.35 110.62,761.00 111.13,761.00 111.63,761.00 112.13,761.00 112.64,761.00 113.14,761.00 113.64,761.00 114.15,761.00 114.65,761.00 115.15,761.00 115.66,761.00 116.16,761.00 116.66,761.00 117.17,761.00 117.67,761.00 118.17,761.00 118.68,761.00 119.18,761.00 119.68,761.00 120.19,761.00 120.69,761.00 121.19,761.00 121.70,761.00 122.20,761.00 122.70,761.00 123.20,761.00 123.71,761.00 124.21,761.00 124.71,761.00 125.22,761.00 125.72,761.00 126.22,761.00 126.73,761.00 127.23,761.00 127.73,761.00 128.24,761.00 128.74,761.00 129.24,761.00 129.75,761.00 130.25,761.00 130.75,761.00 131.26,761.00 131.76,761.00 132.26,761.00 132.77,761.00 133.27,761.00 133.77,761.00 134.28,761.00 134.78,761.00 135.28,761.00 135.78,761.00 136.29,761.00 136.79,761.00 137.29,761.00 137.80,761.00 138.30,761.00 138.80,761.00 139.31,761.00 139.81,761.00 140.31,761.00 140.82,761.00 141.32,761.00 141.82,761.00 142.33,761.00 142.83,761.00 143.33,761.00 143.84,761.00 144.34,761.00 144.84,761.00 145.35,761.00 145.85,761.00 146.35,761.00 146.86,761.00 147.36,761.00 147.86,761.00 148.36,761.00 148.87,761.00 149.37,761.00 149.87,761.00 150.38,761.00 150.88,761.00 151.38,761.00 151.89,761.00 152.39,761.00 152.89,761.00 153.40,761.00 153.90,761.00 153.90,761.00" fill="#979797"/>
<polyline points="91.00,758.82 91.50,758.50 92.01,756.14 92.51,754.37 93.01,750.26 93.52,751.41 94.02,745.75 94.52,742.46 95.03,741.77 95.53,738.80 96.03,741.84 96.54,732.42 97.04,735.00 97.54,727.73 98.04,725.91 98.55,733.25 99.05,723.09 99.55,718.86 100.06,729.69 100.56,723.52 101.06,714.90 101.57,723.21 102.07,708.03 102.57,718.04 103.08,707.51 103.58,718.79 104.08,710.71 104.59,707.51 105.09,718.41 105.59,718.53 106.10,715.28 106.60,719.90 107.10,725.96 107.61,724.60 108.11,726.08 108.61,715.08 109.12,720.86 109.62,719.54 110.12,731.38 110.62,724.80 111.13,734.91 111.63,731.45 112.13,731.19 112.64,734.95 113.14,730.06 113.64,734.18 114.15,734.61 114.65,732.30 115.15,740.61 115.66,732.82 116.16,736.95 116.66,739.75 117.17,736.92 117.67,742.35 118.17,737.78 118.68,742.21 119.18,744.90 119.68,743.45 120.19,746.65 120.69,749.23 121.19,747.46 121.70,751.86 122.20,749.30 122.70,752.24 123.20,751.43 123.71,750.95 124.21,752.97 124.71,753.42 125.22,755.02 125.72,756.35 126.22,756.80 126.73,757.13 127.23,756.97 127.73,757.88 128.24,758.33 128.74,758.17 129.24,759.10 129.75,759.21 130.25,759.10 130.75,759.43 131.26,759.64 131.76,759.86 132.26,759.96 132.77,760.03 133.27,760.09 133.77,760.16 134.28,760.22 134.78,760.29 135.28,760.35 135.78,760.42 136.29,760.48 136.79,760.55 137.29,760.61 137.80,760.68 138.30,760.73 138.80,760.73 139.31,760.73 139.81,760.73 140.31,760.73 140.82,760.73 141.32,760.73 141.82,760.73 142.33,760.73 142.83,760.73 143.33,760.73 143.84,760.73 144.34,760.73 144.84,760.73 145.35,760.73 145.85,760.73 146.35,760.73 146.86,760.73 147.36,760.73 147.86,760.73 148.36,760.73 148.87,760.73 149.37,760.73 149.87,760.73 150.38,760.73 150.88,760.73 151.38,760.73 151.89,760.73 152.39,760.73 152.89,760.73 153.40,760.73 153.90,760.73" fill="none" stroke="#000" stroke-width="1.35" stroke-linejoin="round"/>
<rect x="158.40" y="705.70" width="63.70" height="55.80" fill="#fff" stroke="#8a8a8a" stroke-width="1"/>
<polygon points="158.90,761.00 158.90,736.85 159.40,735.80 159.90,730.18 160.40,714.76 160.91,707.51 161.41,710.49 161.91,714.22 162.41,707.51 162.91,707.51 163.41,707.51 163.92,707.51 164.42,710.35 164.92,721.65 165.42,726.53 165.92,728.11 166.42,728.61 166.93,721.39 167.43,712.26 167.93,709.84 168.43,710.92 168.93,718.00 169.43,726.10 169.94,727.64 170.44,726.34 170.94,726.08 171.44,731.16 171.94,735.65 172.44,732.72 172.94,733.41 173.45,738.20 173.95,741.54 174.45,746.76 174.95,749.76 175.45,748.83 175.95,747.00 176.46,747.23 176.96,750.67 177.46,753.42 177.96,755.04 178.46,757.42 178.96,759.04 179.47,760.58 179.97,761.00 180.47,761.00 180.97,761.00 181.47,761.00 181.97,761.00 182.48,761.00 182.98,761.00 183.48,761.00 183.98,761.00 184.48,761.00 184.98,761.00 185.48,761.00 185.99,761.00 186.49,761.00 186.99,761.00 187.49,761.00 187.99,761.00 188.49,761.00 189.00,761.00 189.50,761.00 190.00,761.00 190.50,761.00 191.00,761.00 191.50,761.00 192.01,761.00 192.51,761.00 193.01,761.00 193.51,761.00 194.01,761.00 194.51,761.00 195.02,761.00 195.52,761.00 196.02,761.00 196.52,761.00 197.02,761.00 197.52,761.00 198.02,761.00 198.53,761.00 199.03,761.00 199.53,761.00 200.03,761.00 200.53,761.00 201.03,761.00 201.54,761.00 202.04,761.00 202.54,761.00 203.04,761.00 203.54,761.00 204.04,761.00 204.55,761.00 205.05,761.00 205.55,761.00 206.05,761.00 206.55,761.00 207.05,761.00 207.56,761.00 208.06,761.00 208.56,761.00 209.06,761.00 209.56,761.00 210.06,761.00 210.56,761.00 211.07,761.00 211.57,761.00 212.07,761.00 212.57,761.00 213.07,761.00 213.57,761.00 214.08,761.00 214.58,761.00 215.08,761.00 215.58,761.00 216.08,761.00 216.58,761.00 217.09,761.00 217.59,761.00 218.09,761.00 218.59,761.00 219.09,761.00 219.59,761.00 220.10,761.00 220.60,761.00 221.10,761.00 221.60,761.00 221.60,761.00" fill="#b4b4b4"/>
<polygon points="158.90,761.00 158.90,736.80 159.40,732.05 159.90,726.82 160.40,722.26 160.91,718.56 161.41,714.28 161.91,714.50 162.41,714.60 162.91,709.45 163.41,710.10 163.92,711.71 164.42,712.88 164.92,714.03 165.42,711.74 165.92,710.58 166.42,713.10 166.93,717.25 167.43,721.94 167.93,724.31 168.43,723.59 168.93,724.46 169.43,727.31 169.94,729.12 170.44,733.39 170.94,736.47 171.44,735.12 171.94,734.14 172.44,736.81 172.94,739.01 173.45,740.29 173.95,743.33 174.45,745.32 174.95,746.07 175.45,747.04 175.95,748.59 176.46,750.87 176.96,753.16 177.46,755.04 177.96,756.26 178.46,757.31 178.96,758.86 179.47,760.61 179.97,761.00 180.47,761.00 180.97,761.00 181.47,761.00 181.97,761.00 182.48,761.00 182.98,761.00 183.48,761.00 183.98,761.00 184.48,761.00 184.98,761.00 185.48,761.00 185.99,761.00 186.49,761.00 186.99,761.00 187.49,761.00 187.99,761.00 188.49,761.00 189.00,761.00 189.50,761.00 190.00,761.00 190.50,761.00 191.00,761.00 191.50,761.00 192.01,761.00 192.51,761.00 193.01,761.00 193.51,761.00 194.01,761.00 194.51,761.00 195.02,761.00 195.52,761.00 196.02,761.00 196.52,761.00 197.02,761.00 197.52,761.00 198.02,761.00 198.53,761.00 199.03,761.00 199.53,761.00 200.03,761.00 200.53,761.00 201.03,761.00 201.54,761.00 202.04,761.00 202.54,761.00 203.04,761.00 203.54,761.00 204.04,761.00 204.55,761.00 205.05,761.00 205.55,761.00 206.05,761.00 206.55,761.00 207.05,761.00 207.56,761.00 208.06,761.00 208.56,761.00 209.06,761.00 209.56,761.00 210.06,761.00 210.56,761.00 211.07,761.00 211.57,761.00 212.07,761.00 212.57,761.00 213.07,761.00 213.57,761.00 214.08,761.00 214.58,761.00 215.08,761.00 215.58,761.00 216.08,761.00 216.58,761.00 217.09,761.00 217.59,761.00 218.09,761.00 218.59,761.00 219.09,761.00 219.59,761.00 220.10,761.00 220.60,761.00 221.10,761.00 221.60,761.00 221.60,761.00" fill="#979797"/>
<polyline points="158.90,751.42 159.40,752.18 159.90,753.13 160.40,750.73 160.91,750.25 161.41,748.84 161.91,749.15 162.41,747.11 162.91,744.29 163.41,744.47 163.92,743.65 164.42,737.88 164.92,742.24 165.42,736.48 165.92,737.60 166.42,732.20 166.93,738.36 167.43,728.43 167.93,734.72 168.43,737.56 168.93,734.52 169.43,732.48 169.94,736.58 170.44,731.08 170.94,730.46 171.44,726.31 171.94,730.18 172.44,730.77 172.94,731.20 173.45,724.67 173.95,722.45 174.45,728.23 174.95,732.54 175.45,725.46 175.95,731.00 176.46,733.57 176.96,734.90 177.46,727.36 177.96,727.36 178.46,729.83 178.96,732.14 179.47,731.42 179.97,735.86 180.47,728.38 180.97,735.79 181.47,733.49 181.97,732.43 182.48,733.27 182.98,737.41 183.48,739.74 183.98,738.12 184.48,742.54 184.98,737.20 185.48,741.97 185.99,738.96 186.49,744.26 186.99,744.28 187.49,745.92 187.99,745.61 188.49,747.90 189.00,749.69 189.50,746.58 190.00,749.70 190.50,750.61 191.00,751.05 191.50,751.04 192.01,751.98 192.51,752.01 193.01,752.74 193.51,754.38 194.01,753.68 194.51,754.74 195.02,757.11 195.52,756.33 196.02,756.71 196.52,757.37 197.02,758.58 197.52,758.29 198.02,758.94 198.53,759.48 199.03,759.91 199.53,759.97 200.03,760.03 200.53,760.09 201.03,760.15 201.54,760.21 202.04,760.27 202.54,760.33 203.04,760.39 203.54,760.45 204.04,760.51 204.55,760.57 205.05,760.62 205.55,760.68 206.05,760.73 206.55,760.73 207.05,760.73 207.56,760.73 208.06,760.73 208.56,760.73 209.06,760.73 209.56,760.73 210.06,760.73 210.56,760.73 211.07,760.73 211.57,760.73 212.07,760.73 212.57,760.73 213.07,760.73 213.57,760.73 214.08,760.73 214.58,760.73 215.08,760.73 215.58,760.73 216.08,760.73 216.58,760.73 217.09,760.73 217.59,760.73 218.09,760.73 218.59,760.73 219.09,760.73 219.59,760.73 220.10,760.73 220.60,760.73 221.10,760.73 221.60,760.73" fill="none" stroke="#000" stroke-width="1.35" stroke-linejoin="round"/>
<rect x="226.70" y="705.70" width="63.00" height="55.80" fill="#fff" stroke="#8a8a8a" stroke-width="1"/>
<polygon points="227.20,761.00 227.20,746.70 227.70,747.72 228.20,744.60 228.70,742.44 229.20,743.19 229.70,737.82 230.20,729.71 230.70,727.06 231.20,726.33 231.70,721.92 232.20,721.70 232.70,720.30 233.20,718.59 233.70,722.34 234.20,716.26 234.70,711.88 235.20,711.19 235.70,707.51 236.20,707.96 236.70,709.87 237.20,707.51 237.70,707.51 238.20,715.37 238.70,717.72 239.20,715.05 239.70,710.91 240.20,712.78 240.70,718.56 241.20,720.82 241.70,725.77 242.20,732.15 242.70,735.80 243.20,734.49 243.70,733.43 244.20,736.96 244.70,741.87 245.20,747.20 245.70,750.85 246.20,752.28 246.70,753.34 247.20,755.14 247.70,758.10 248.20,760.62 248.70,761.00 249.20,761.00 249.70,761.00 250.20,761.00 250.70,761.00 251.20,761.00 251.70,761.00 252.20,761.00 252.70,761.00 253.20,761.00 253.70,761.00 254.20,761.00 254.70,761.00 255.20,761.00 255.70,761.00 256.20,761.00 256.70,761.00 257.20,761.00 257.70,761.00 258.20,761.00 258.70,761.00 259.20,761.00 259.70,761.00 260.20,761.00 260.70,761.00 261.20,761.00 261.70,761.00 262.20,761.00 262.70,761.00 263.20,761.00 263.70,761.00 264.20,761.00 264.70,761.00 265.20,761.00 265.70,761.00 266.20,761.00 266.70,761.00 267.20,761.00 267.70,761.00 268.20,761.00 268.70,761.00 269.20,761.00 269.70,761.00 270.20,761.00 270.70,761.00 271.20,761.00 271.70,761.00 272.20,761.00 272.70,761.00 273.20,761.00 273.70,761.00 274.20,761.00 274.70,761.00 275.20,761.00 275.70,761.00 276.20,761.00 276.70,761.00 277.20,761.00 277.70,761.00 278.20,761.00 278.70,761.00 279.20,761.00 279.70,761.00 280.20,761.00 280.70,761.00 281.20,761.00 281.70,761.00 282.20,761.00 282.70,761.00 283.20,761.00 283.70,761.00 284.20,761.00 284.70,761.00 285.20,761.00 285.70,761.00 286.20,761.00 286.70,761.00 287.20,761.00 287.70,761.00 288.20,761.00 288.70,761.00 289.20,761.00 289.20,761.00" fill="#b4b4b4"/>
<polygon points="227.20,761.00 227.20,748.14 227.70,747.34 228.20,747.93 228.70,746.18 229.20,741.08 229.70,738.28 230.20,738.96 230.70,736.52 231.20,732.83 231.70,730.71 232.20,726.83 232.70,726.28 233.20,727.88 233.70,723.97 234.20,718.93 234.70,715.68 235.20,714.30 235.70,712.92 236.20,708.60 236.70,707.51 237.20,708.34 237.70,709.75 238.20,713.96 238.70,714.85 239.20,711.68 239.70,710.97 240.20,715.99 240.70,722.86 241.20,729.67 241.70,731.60 242.20,729.86 242.70,731.43 243.20,736.00 243.70,740.42 244.20,742.07 244.70,742.83 245.20,745.60 245.70,749.26 246.20,752.26 246.70,754.04 247.20,755.96 247.70,758.37 248.20,760.65 248.70,761.00 249.20,761.00 249.70,761.00 250.20,761.00 250.70,761.00 251.20,761.00 251.70,761.00 252.20,761.00 252.70,761.00 253.20,761.00 253.70,761.00 254.20,761.00 254.70,761.00 255.20,761.00 255.70,761.00 256.20,761.00 256.70,761.00 257.20,761.00 257.70,761.00 258.20,761.00 258.70,761.00 259.20,761.00 259.70,761.00 260.20,761.00 260.70,761.00 261.20,761.00 261.70,761.00 262.20,761.00 262.70,761.00 263.20,761.00 263.70,761.00 264.20,761.00 264.70,761.00 265.20,761.00 265.70,761.00 266.20,761.00 266.70,761.00 267.20,761.00 267.70,761.00 268.20,761.00 268.70,761.00 269.20,761.00 269.70,761.00 270.20,761.00 270.70,761.00 271.20,761.00 271.70,761.00 272.20,761.00 272.70,761.00 273.20,761.00 273.70,761.00 274.20,761.00 274.70,761.00 275.20,761.00 275.70,761.00 276.20,761.00 276.70,761.00 277.20,761.00 277.70,761.00 278.20,761.00 278.70,761.00 279.20,761.00 279.70,761.00 280.20,761.00 280.70,761.00 281.20,761.00 281.70,761.00 282.20,761.00 282.70,761.00 283.20,761.00 283.70,761.00 284.20,761.00 284.70,761.00 285.20,761.00 285.70,761.00 286.20,761.00 286.70,761.00 287.20,761.00 287.70,761.00 288.20,761.00 288.70,761.00 289.20,761.00 289.20,761.00" fill="#979797"/>
<polyline points="227.20,756.47 227.70,756.19 228.20,754.55 228.70,752.55 229.20,752.16 229.70,748.49 230.20,746.75 230.70,749.55 231.20,744.90 231.70,744.58 232.20,745.10 232.70,736.88 233.20,741.17 233.70,736.86 234.20,734.48 234.70,729.44 235.20,730.82 235.70,732.44 236.20,730.23 236.70,732.50 237.20,719.99 237.70,717.74 238.20,727.48 238.70,728.95 239.20,725.39 239.70,725.40 240.20,718.95 240.70,720.82 241.20,723.59 241.70,735.34 242.20,727.89 242.70,730.56 243.20,732.99 243.70,730.57 244.20,740.68 244.70,740.45 245.20,735.45 245.70,734.64 246.20,737.82 246.70,741.80 247.20,740.15 247.70,739.65 248.20,745.35 248.70,743.24 249.20,743.06 249.70,743.46 250.20,739.76 250.70,741.77 251.20,742.27 251.70,744.38 252.20,741.88 252.70,747.86 253.20,744.93 253.70,749.47 254.20,751.66 254.70,749.52 255.20,753.77 255.70,753.40 256.20,755.48 256.70,756.49 257.20,758.18 257.70,758.38 258.20,759.27 258.70,759.55 259.20,760.16 259.70,760.46 260.20,760.46 260.70,760.47 261.20,760.47 261.70,760.48 262.20,760.48 262.70,760.49 263.20,760.49 263.70,760.50 264.20,760.50 264.70,760.50 265.20,760.51 265.70,760.51 266.20,760.52 266.70,760.52 267.20,760.53 267.70,760.53 268.20,760.54 268.70,760.54 269.20,760.55 269.70,760.55 270.20,760.56 270.70,760.56 271.20,760.56 271.70,760.57 272.20,760.57 272.70,760.58 273.20,760.58 273.70,760.59 274.20,760.59 274.70,760.60 275.20,760.60 275.70,760.61 276.20,760.61 276.70,760.61 277.20,760.62 277.70,760.62 278.20,760.63 278.70,760.63 279.20,760.64 279.70,760.64 280.20,760.65 280.70,760.65 281.20,760.66 281.70,760.66 282.20,760.66 282.70,760.67 283.20,760.67 283.70,760.68 284.20,760.68 284.70,760.69 285.20,760.69 285.70,760.70 286.20,760.70 286.70,760.71 287.20,760.71 287.70,760.71 288.20,760.72 288.70,760.72 289.20,760.73" fill="none" stroke="#000" stroke-width="1.35" stroke-linejoin="round"/>
<rect x="90.50" y="766.00" width="63.60" height="54.90" fill="#fff" stroke="#8a8a8a" stroke-width="1"/>
<polygon points="91.00,820.40 91.00,806.35 91.50,805.67 92.00,801.48 92.50,793.43 93.00,790.34 93.50,792.53 94.00,789.89 94.51,780.14 95.01,771.22 95.51,768.37 96.01,773.74 96.51,783.89 97.01,782.35 97.51,770.94 98.01,767.80 98.51,769.94 99.01,774.57 99.51,772.03 100.01,770.38 100.52,767.80 101.02,767.80 101.52,781.38 102.02,787.96 102.52,783.70 103.02,783.89 103.52,789.00 104.02,797.09 104.52,800.02 105.02,798.73 105.52,803.41 106.02,808.16 106.52,808.34 107.03,809.91 107.53,812.65 108.03,813.57 108.53,814.73 109.03,816.00 109.53,816.95 110.03,817.15 110.53,817.75 111.03,819.25 111.53,819.71 112.03,820.17 112.53,820.40 113.04,820.40 113.54,820.40 114.04,820.40 114.54,820.40 115.04,820.40 115.54,820.40 116.04,820.40 116.54,820.40 117.04,820.40 117.54,820.40 118.04,820.40 118.54,820.40 119.04,820.40 119.55,820.40 120.05,820.40 120.55,820.40 121.05,820.40 121.55,820.40 122.05,820.40 122.55,820.40 123.05,820.40 123.55,820.40 124.05,820.40 124.55,820.40 125.05,820.40 125.56,820.40 126.06,820.40 126.56,820.40 127.06,820.40 127.56,820.40 128.06,820.40 128.56,820.40 129.06,820.40 129.56,820.40 130.06,820.40 130.56,820.40 131.06,820.40 131.56,820.40 132.07,820.40 132.57,820.40 133.07,820.40 133.57,820.40 134.07,820.40 134.57,820.40 135.07,820.40 135.57,820.40 136.07,820.40 136.57,820.40 137.07,820.40 137.57,820.40 138.08,820.40 138.58,820.40 139.08,820.40 139.58,820.40 140.08,820.40 140.58,820.40 141.08,820.40 141.58,820.40 142.08,820.40 142.58,820.40 143.08,820.40 143.58,820.40 144.08,820.40 144.59,820.40 145.09,820.40 145.59,820.40 146.09,820.40 146.59,820.40 147.09,820.40 147.59,820.40 148.09,820.40 148.59,820.40 149.09,820.40 149.59,820.40 150.09,820.40 150.60,820.40 151.10,820.40 151.60,820.40 152.10,820.40 152.60,820.40 153.10,820.40 153.60,820.40 153.60,820.40" fill="#b4b4b4"/>
<polygon points="91.00,820.40 91.00,802.83 91.50,799.47 92.00,797.35 92.50,793.39 93.00,788.43 93.50,787.76 94.00,788.13 94.51,785.40 95.01,780.65 95.51,777.49 96.01,779.36 96.51,779.03 97.01,776.43 97.51,775.99 98.01,769.92 98.51,767.80 99.01,772.16 99.51,777.72 100.01,778.25 100.52,780.16 101.02,785.14 101.52,789.40 102.02,791.11 102.52,791.85 103.02,793.46 103.52,796.55 104.02,799.68 104.52,801.47 105.02,801.24 105.52,802.03 106.02,804.94 106.52,807.22 107.03,809.52 107.53,811.67 108.03,813.18 108.53,814.95 109.03,815.83 109.53,816.67 110.03,817.67 110.53,818.62 111.03,819.33 111.53,819.76 112.03,820.19 112.53,820.40 113.04,820.40 113.54,820.40 114.04,820.40 114.54,820.40 115.04,820.40 115.54,820.40 116.04,820.40 116.54,820.40 117.04,820.40 117.54,820.40 118.04,820.40 118.54,820.40 119.04,820.40 119.55,820.40 120.05,820.40 120.55,820.40 121.05,820.40 121.55,820.40 122.05,820.40 122.55,820.40 123.05,820.40 123.55,820.40 124.05,820.40 124.55,820.40 125.05,820.40 125.56,820.40 126.06,820.40 126.56,820.40 127.06,820.40 127.56,820.40 128.06,820.40 128.56,820.40 129.06,820.40 129.56,820.40 130.06,820.40 130.56,820.40 131.06,820.40 131.56,820.40 132.07,820.40 132.57,820.40 133.07,820.40 133.57,820.40 134.07,820.40 134.57,820.40 135.07,820.40 135.57,820.40 136.07,820.40 136.57,820.40 137.07,820.40 137.57,820.40 138.08,820.40 138.58,820.40 139.08,820.40 139.58,820.40 140.08,820.40 140.58,820.40 141.08,820.40 141.58,820.40 142.08,820.40 142.58,820.40 143.08,820.40 143.58,820.40 144.08,820.40 144.59,820.40 145.09,820.40 145.59,820.40 146.09,820.40 146.59,820.40 147.09,820.40 147.59,820.40 148.09,820.40 148.59,820.40 149.09,820.40 149.59,820.40 150.09,820.40 150.60,820.40 151.10,820.40 151.60,820.40 152.10,820.40 152.60,820.40 153.10,820.40 153.60,820.40 153.60,820.40" fill="#979797"/>
<polyline points="91.00,817.44 91.50,816.82 92.00,815.20 92.50,815.22 93.00,814.42 93.50,813.16 94.00,813.19 94.51,812.53 95.01,810.91 95.51,811.05 96.01,807.73 96.51,808.04 97.01,807.05 97.51,807.67 98.01,804.14 98.51,802.08 99.01,798.86 99.51,796.74 100.01,791.68 100.52,788.52 101.02,791.72 101.52,789.54 102.02,784.30 102.52,775.86 103.02,782.96 103.52,777.16 104.02,769.15 104.52,778.48 105.02,775.79 105.52,767.80 106.02,773.01 106.52,781.38 107.03,790.24 107.53,780.25 108.03,782.02 108.53,779.03 109.03,775.35 109.53,777.71 110.03,785.86 110.53,790.74 111.03,790.07 111.53,788.43 112.03,789.74 112.53,794.68 113.04,795.80 113.54,792.03 114.04,793.58 114.54,797.30 115.04,792.46 115.54,797.07 116.04,803.31 116.54,801.39 117.04,799.78 117.54,804.45 118.04,803.10 118.54,808.49 119.04,807.82 119.55,806.13 120.05,808.52 120.55,809.29 121.05,812.19 121.55,812.13 122.05,813.04 122.55,814.83 123.05,814.88 123.55,815.62 124.05,815.34 124.55,816.57 125.05,817.29 125.56,818.09 126.06,818.48 126.56,818.49 127.06,818.85 127.56,818.91 128.06,818.98 128.56,819.04 129.06,819.11 129.56,819.18 130.06,819.24 130.56,819.31 131.06,819.37 131.56,819.44 132.07,819.50 132.57,819.57 133.07,819.64 133.57,819.70 134.07,819.77 134.57,819.83 135.07,819.87 135.57,819.88 136.07,819.88 136.57,819.89 137.07,819.90 137.57,819.91 138.08,819.91 138.58,819.92 139.08,819.93 139.58,819.93 140.08,819.94 140.58,819.95 141.08,819.95 141.58,819.96 142.08,819.97 142.58,819.98 143.08,819.98 143.58,819.99 144.08,820.00 144.59,820.00 145.09,820.01 145.59,820.02 146.09,820.03 146.59,820.03 147.09,820.04 147.59,820.05 148.09,820.05 148.59,820.06 149.09,820.07 149.59,820.08 150.09,820.08 150.60,820.09 151.10,820.10 151.60,820.10 152.10,820.11 152.60,820.12 153.10,820.13 153.60,820.13" fill="none" stroke="#000" stroke-width="1.35" stroke-linejoin="round"/>
<rect x="158.70" y="766.00" width="63.90" height="54.90" fill="#fff" stroke="#8a8a8a" stroke-width="1"/>
<polygon points="159.20,820.40 159.20,801.10 159.70,794.24 160.21,790.44 160.71,791.19 161.21,794.24 161.72,789.29 162.22,779.50 162.72,781.75 163.23,787.87 163.73,788.28 164.23,786.67 164.74,787.97 165.24,785.38 165.74,776.76 166.24,778.03 166.75,778.74 167.25,774.45 167.75,779.32 168.26,776.37 168.76,771.91 169.26,779.86 169.77,778.88 170.27,771.25 170.77,776.89 171.28,788.86 171.78,790.10 172.28,788.33 172.79,789.38 173.29,791.86 173.79,795.70 174.30,797.16 174.80,801.87 175.30,807.29 175.81,809.50 176.31,810.29 176.81,810.67 177.32,811.42 177.82,812.06 178.32,814.01 178.82,816.48 179.33,817.87 179.83,818.80 180.33,819.82 180.84,820.40 181.34,820.40 181.84,820.40 182.35,820.40 182.85,820.40 183.35,820.40 183.86,820.40 184.36,820.40 184.86,820.40 185.37,820.40 185.87,820.40 186.37,820.40 186.88,820.40 187.38,820.40 187.88,820.40 188.39,820.40 188.89,820.40 189.39,820.40 189.90,820.40 190.40,820.40 190.90,820.40 191.40,820.40 191.91,820.40 192.41,820.40 192.91,820.40 193.42,820.40 193.92,820.40 194.42,820.40 194.93,820.40 195.43,820.40 195.93,820.40 196.44,820.40 196.94,820.40 197.44,820.40 197.95,820.40 198.45,820.40 198.95,820.40 199.46,820.40 199.96,820.40 200.46,820.40 200.97,820.40 201.47,820.40 201.97,820.40 202.48,820.40 202.98,820.40 203.48,820.40 203.98,820.40 204.49,820.40 204.99,820.40 205.49,820.40 206.00,820.40 206.50,820.40 207.00,820.40 207.51,820.40 208.01,820.40 208.51,820.40 209.02,820.40 209.52,820.40 210.02,820.40 210.53,820.40 211.03,820.40 211.53,820.40 212.04,820.40 212.54,820.40 213.04,820.40 213.55,820.40 214.05,820.40 214.55,820.40 215.06,820.40 215.56,820.40 216.06,820.40 216.56,820.40 217.07,820.40 217.57,820.40 218.07,820.40 218.58,820.40 219.08,820.40 219.58,820.40 220.09,820.40 220.59,820.40 221.09,820.40 221.60,820.40 222.10,820.40 222.10,820.40" fill="#b4b4b4"/>
<polygon points="159.20,820.40 159.20,796.57 159.70,791.32 160.21,788.34 160.71,789.76 161.21,787.82 161.72,782.86 162.22,780.55 162.72,778.45 163.23,777.08 163.73,776.28 164.23,775.11 164.74,776.38 165.24,780.00 165.74,780.73 166.24,776.75 166.75,774.86 167.25,772.27 167.75,770.67 168.26,774.27 168.76,777.73 169.26,780.54 169.77,779.44 170.27,780.33 170.77,785.52 171.28,785.99 171.78,785.45 172.28,789.28 172.79,794.34 173.29,799.12 173.79,802.21 174.30,803.29 174.80,805.11 175.30,807.78 175.81,809.70 176.31,810.49 176.81,810.73 177.32,812.06 177.82,814.14 178.32,815.49 178.82,816.51 179.33,817.63 179.83,818.80 180.33,819.87 180.84,820.40 181.34,820.40 181.84,820.40 182.35,820.40 182.85,820.40 183.35,820.40 183.86,820.40 184.36,820.40 184.86,820.40 185.37,820.40 185.87,820.40 186.37,820.40 186.88,820.40 187.38,820.40 187.88,820.40 188.39,820.40 188.89,820.40 189.39,820.40 189.90,820.40 190.40,820.40 190.90,820.40 191.40,820.40 191.91,820.40 192.41,820.40 192.91,820.40 193.42,820.40 193.92,820.40 194.42,820.40 194.93,820.40 195.43,820.40 195.93,820.40 196.44,820.40 196.94,820.40 197.44,820.40 197.95,820.40 198.45,820.40 198.95,820.40 199.46,820.40 199.96,820.40 200.46,820.40 200.97,820.40 201.47,820.40 201.97,820.40 202.48,820.40 202.98,820.40 203.48,820.40 203.98,820.40 204.49,820.40 204.99,820.40 205.49,820.40 206.00,820.40 206.50,820.40 207.00,820.40 207.51,820.40 208.01,820.40 208.51,820.40 209.02,820.40 209.52,820.40 210.02,820.40 210.53,820.40 211.03,820.40 211.53,820.40 212.04,820.40 212.54,820.40 213.04,820.40 213.55,820.40 214.05,820.40 214.55,820.40 215.06,820.40 215.56,820.40 216.06,820.40 216.56,820.40 217.07,820.40 217.57,820.40 218.07,820.40 218.58,820.40 219.08,820.40 219.58,820.40 220.09,820.40 220.59,820.40 221.09,820.40 221.60,820.40 222.10,820.40 222.10,820.40" fill="#979797"/>
<polyline points="159.20,815.96 159.70,813.74 160.21,814.30 160.71,812.68 161.21,810.00 161.72,812.37 162.22,811.86 162.72,809.35 163.23,809.73 163.73,806.21 164.23,809.28 164.74,803.65 165.24,802.59 165.74,802.07 166.24,803.61 166.75,803.82 167.25,800.27 167.75,800.63 168.26,800.64 168.76,800.62 169.26,799.04 169.77,796.25 170.27,793.96 170.77,792.36 171.28,798.86 171.78,796.86 172.28,794.66 172.79,792.66 173.29,794.32 173.79,795.39 174.30,796.05 174.80,792.60 175.30,790.27 175.81,783.46 176.31,783.99 176.81,784.29 177.32,782.66 177.82,782.57 178.32,787.12 178.82,785.33 179.33,795.17 179.83,788.23 180.33,789.64 180.84,793.84 181.34,791.26 181.84,787.60 182.35,793.41 182.85,792.20 183.35,796.43 183.86,796.55 184.36,791.90 184.86,800.97 185.37,800.09 185.87,796.34 186.37,799.15 186.88,802.92 187.38,798.89 187.88,801.93 188.39,801.08 188.89,803.07 189.39,803.17 189.90,803.87 190.40,805.82 190.90,808.31 191.40,808.72 191.91,805.97 192.41,808.60 192.91,811.39 193.42,809.23 193.92,812.35 194.42,813.39 194.93,812.51 195.43,813.89 195.93,813.77 196.44,814.18 196.94,815.49 197.44,815.31 197.95,816.70 198.45,816.57 198.95,817.05 199.46,818.18 199.96,818.03 200.46,818.54 200.97,818.42 201.47,818.32 201.97,818.80 202.48,819.01 202.98,819.23 203.48,819.44 203.98,819.65 204.49,819.87 204.99,819.87 205.49,819.88 206.00,819.89 206.50,819.90 207.00,819.90 207.51,819.91 208.01,819.92 208.51,819.93 209.02,819.93 209.52,819.94 210.02,819.95 210.53,819.96 211.03,819.97 211.53,819.97 212.04,819.98 212.54,819.99 213.04,820.00 213.55,820.00 214.05,820.01 214.55,820.02 215.06,820.03 215.56,820.03 216.06,820.04 216.56,820.05 217.07,820.06 217.57,820.06 218.07,820.07 218.58,820.08 219.08,820.09 219.58,820.09 220.09,820.10 220.59,820.11 221.09,820.12 221.60,820.13 222.10,820.13" fill="none" stroke="#000" stroke-width="1.35" stroke-linejoin="round"/>
<rect x="226.90" y="766.00" width="62.80" height="54.90" fill="#fff" stroke="#8a8a8a" stroke-width="1"/>
<polygon points="227.40,820.40 227.40,814.25 227.90,811.29 228.40,809.54 228.91,805.59 229.41,802.51 229.91,801.69 230.41,796.38 230.92,794.60 231.42,798.90 231.92,798.94 232.42,791.72 232.93,784.03 233.43,786.05 233.93,794.31 234.43,797.60 234.94,789.22 235.44,779.33 235.94,778.97 236.44,778.46 236.95,773.88 237.45,769.23 237.95,772.86 238.45,775.22 238.96,767.80 239.46,767.80 239.96,768.56 240.46,767.80 240.97,773.25 241.47,788.80 241.97,795.12 242.47,795.31 242.98,792.17 243.48,789.50 243.98,796.06 244.48,805.76 244.99,807.27 245.49,805.20 245.99,807.63 246.49,811.57 247.00,814.54 247.50,816.49 248.00,818.37 248.50,820.40 249.00,820.40 249.51,820.40 250.01,820.40 250.51,820.40 251.01,820.40 251.52,820.40 252.02,820.40 252.52,820.40 253.02,820.40 253.53,820.40 254.03,820.40 254.53,820.40 255.03,820.40 255.54,820.40 256.04,820.40 256.54,820.40 257.04,820.40 257.55,820.40 258.05,820.40 258.55,820.40 259.05,820.40 259.56,820.40 260.06,820.40 260.56,820.40 261.06,820.40 261.57,820.40 262.07,820.40 262.57,820.40 263.07,820.40 263.58,820.40 264.08,820.40 264.58,820.40 265.08,820.40 265.59,820.40 266.09,820.40 266.59,820.40 267.09,820.40 267.60,820.40 268.10,820.40 268.60,820.40 269.10,820.40 269.60,820.40 270.11,820.40 270.61,820.40 271.11,820.40 271.61,820.40 272.12,820.40 272.62,820.40 273.12,820.40 273.62,820.40 274.13,820.40 274.63,820.40 275.13,820.40 275.63,820.40 276.14,820.40 276.64,820.40 277.14,820.40 277.64,820.40 278.15,820.40 278.65,820.40 279.15,820.40 279.65,820.40 280.16,820.40 280.66,820.40 281.16,820.40 281.66,820.40 282.17,820.40 282.67,820.40 283.17,820.40 283.67,820.40 284.18,820.40 284.68,820.40 285.18,820.40 285.68,820.40 286.19,820.40 286.69,820.40 287.19,820.40 287.69,820.40 288.20,820.40 288.70,820.40 289.20,820.40 289.20,820.40" fill="#b4b4b4"/>
<polygon points="227.40,820.40 227.40,811.18 227.90,809.95 228.40,808.14 228.91,805.91 229.41,804.38 229.91,803.92 230.41,801.14 230.92,797.73 231.42,797.97 231.92,798.70 232.42,798.07 232.93,795.69 233.43,790.95 233.93,786.94 234.43,786.17 234.94,785.43 235.44,782.51 235.94,776.14 236.44,770.14 236.95,771.00 237.45,771.94 237.95,767.80 238.45,767.80 238.96,772.19 239.46,778.04 239.96,775.42 240.46,776.43 240.97,784.19 241.47,790.48 241.97,792.08 242.47,791.08 242.98,791.67 243.48,794.47 243.98,798.60 244.48,803.75 244.99,806.25 245.49,807.08 245.99,809.40 246.49,811.98 247.00,814.21 247.50,816.71 248.00,818.85 248.50,820.40 249.00,820.40 249.51,820.40 250.01,820.40 250.51,820.40 251.01,820.40 251.52,820.40 252.02,820.40 252.52,820.40 253.02,820.40 253.53,820.40 254.03,820.40 254.53,820.40 255.03,820.40 255.54,820.40 256.04,820.40 256.54,820.40 257.04,820.40 257.55,820.40 258.05,820.40 258.55,820.40 259.05,820.40 259.56,820.40 260.06,820.40 260.56,820.40 261.06,820.40 261.57,820.40 262.07,820.40 262.57,820.40 263.07,820.40 263.58,820.40 264.08,820.40 264.58,820.40 265.08,820.40 265.59,820.40 266.09,820.40 266.59,820.40 267.09,820.40 267.60,820.40 268.10,820.40 268.60,820.40 269.10,820.40 269.60,820.40 270.11,820.40 270.61,820.40 271.11,820.40 271.61,820.40 272.12,820.40 272.62,820.40 273.12,820.40 273.62,820.40 274.13,820.40 274.63,820.40 275.13,820.40 275.63,820.40 276.14,820.40 276.64,820.40 277.14,820.40 277.64,820.40 278.15,820.40 278.65,820.40 279.15,820.40 279.65,820.40 280.16,820.40 280.66,820.40 281.16,820.40 281.66,820.40 282.17,820.40 282.67,820.40 283.17,820.40 283.67,820.40 284.18,820.40 284.68,820.40 285.18,820.40 285.68,820.40 286.19,820.40 286.69,820.40 287.19,820.40 287.69,820.40 288.20,820.40 288.70,820.40 289.20,820.40 289.20,820.40" fill="#979797"/>
<polyline points="227.40,816.02 227.90,815.86 228.40,814.40 228.91,812.97 229.41,811.89 229.91,811.60 230.41,809.88 230.92,808.21 231.42,805.54 231.92,805.18 232.42,803.79 232.93,797.63 233.43,796.70 233.93,798.53 234.43,790.51 234.94,797.23 235.44,792.34 235.94,795.84 236.44,786.45 236.95,785.03 237.45,791.39 237.95,783.90 238.45,781.63 238.96,787.98 239.46,786.19 239.96,784.17 240.46,780.97 240.97,792.94 241.47,788.84 241.97,792.28 242.47,796.14 242.98,797.01 243.48,795.59 243.98,802.41 244.48,798.25 244.99,803.37 245.49,801.63 245.99,802.39 246.49,807.68 247.00,802.84 247.50,800.79 248.00,804.40 248.50,805.46 249.00,803.94 249.51,795.97 250.01,803.91 250.51,797.01 251.01,803.73 251.52,800.77 252.02,806.57 252.52,807.35 253.02,805.81 253.53,810.24 254.03,810.39 254.53,809.60 255.03,811.57 255.54,812.29 256.04,813.31 256.54,816.44 257.04,817.02 257.55,817.39 258.05,818.67 258.55,819.34 259.05,819.35 259.56,819.36 260.06,819.38 260.56,819.39 261.06,819.40 261.57,819.42 262.07,819.43 262.57,819.44 263.07,819.46 263.58,819.47 264.08,819.48 264.58,819.49 265.08,819.51 265.59,819.52 266.09,819.53 266.59,819.55 267.09,819.56 267.60,819.57 268.10,819.59 268.60,819.60 269.10,819.61 269.60,819.63 270.11,819.64 270.61,819.65 271.11,819.66 271.61,819.68 272.12,819.69 272.62,819.70 273.12,819.72 273.62,819.73 274.13,819.74 274.63,819.76 275.13,819.77 275.63,819.78 276.14,819.79 276.64,819.81 277.14,819.82 277.64,819.83 278.15,819.85 278.65,819.86 279.15,819.87 279.65,819.89 280.16,819.90 280.66,819.91 281.16,819.92 281.66,819.94 282.17,819.95 282.67,819.96 283.17,819.98 283.67,819.99 284.18,820.00 284.68,820.02 285.18,820.03 285.68,820.04 286.19,820.05 286.69,820.07 287.19,820.08 287.69,820.09 288.20,820.11 288.70,820.12 289.20,820.13" fill="none" stroke="#000" stroke-width="1.35" stroke-linejoin="round"/>
<rect x="304.90" y="705.70" width="63.60" height="55.80" fill="#fff" stroke="#8a8a8a" stroke-width="1"/>
<polygon points="305.40,761.00 305.40,739.49 305.90,727.97 306.40,719.53 306.90,721.26 307.40,726.21 307.90,723.10 308.40,718.30 308.91,713.73 309.41,712.91 309.91,710.83 310.41,708.51 310.91,713.65 311.41,707.51 311.91,707.51 312.41,707.51 312.91,707.51 313.41,707.51 313.91,715.47 314.41,716.90 314.92,717.48 315.42,722.87 315.92,727.09 316.42,732.29 316.92,736.04 317.42,737.79 317.92,740.87 318.42,744.56 318.92,746.22 319.42,749.04 319.92,752.02 320.42,753.88 320.92,754.36 321.43,754.79 321.93,755.96 322.43,757.26 322.93,758.52 323.43,759.59 323.93,760.53 324.43,761.00 324.93,761.00 325.43,761.00 325.93,761.00 326.43,761.00 326.93,761.00 327.44,761.00 327.94,761.00 328.44,761.00 328.94,761.00 329.44,761.00 329.94,761.00 330.44,761.00 330.94,761.00 331.44,761.00 331.94,761.00 332.44,761.00 332.94,761.00 333.44,761.00 333.95,761.00 334.45,761.00 334.95,761.00 335.45,761.00 335.95,761.00 336.45,761.00 336.95,761.00 337.45,761.00 337.95,761.00 338.45,761.00 338.95,761.00 339.45,761.00 339.96,761.00 340.46,761.00 340.96,761.00 341.46,761.00 341.96,761.00 342.46,761.00 342.96,761.00 343.46,761.00 343.96,761.00 344.46,761.00 344.96,761.00 345.46,761.00 345.96,761.00 346.47,761.00 346.97,761.00 347.47,761.00 347.97,761.00 348.47,761.00 348.97,761.00 349.47,761.00 349.97,761.00 350.47,761.00 350.97,761.00 351.47,761.00 351.97,761.00 352.48,761.00 352.98,761.00 353.48,761.00 353.98,761.00 354.48,761.00 354.98,761.00 355.48,761.00 355.98,761.00 356.48,761.00 356.98,761.00 357.48,761.00 357.98,761.00 358.48,761.00 358.99,761.00 359.49,761.00 359.99,761.00 360.49,761.00 360.99,761.00 361.49,761.00 361.99,761.00 362.49,761.00 362.99,761.00 363.49,761.00 363.99,761.00 364.49,761.00 365.00,761.00 365.50,761.00 366.00,761.00 366.50,761.00 367.00,761.00 367.50,761.00 368.00,761.00 368.00,761.00" fill="#b4b4b4"/>
<polygon points="305.40,761.00 305.40,735.93 305.90,732.32 306.40,731.01 306.90,728.04 307.40,723.69 307.90,722.79 308.40,721.66 308.91,717.19 309.41,712.77 309.91,711.05 310.41,711.58 310.91,715.57 311.41,716.77 311.91,711.13 312.41,707.51 312.91,708.75 313.41,714.03 313.91,722.71 314.41,727.89 314.92,727.92 315.42,728.05 315.92,734.01 316.42,737.50 316.92,737.78 317.42,741.57 317.92,744.80 318.42,745.38 318.92,746.79 319.42,750.12 319.92,752.60 320.42,754.06 320.92,754.84 321.43,755.56 321.93,756.21 322.43,757.31 322.93,758.65 323.43,759.70 323.93,760.57 324.43,761.00 324.93,761.00 325.43,761.00 325.93,761.00 326.43,761.00 326.93,761.00 327.44,761.00 327.94,761.00 328.44,761.00 328.94,761.00 329.44,761.00 329.94,761.00 330.44,761.00 330.94,761.00 331.44,761.00 331.94,761.00 332.44,761.00 332.94,761.00 333.44,761.00 333.95,761.00 334.45,761.00 334.95,761.00 335.45,761.00 335.95,761.00 336.45,761.00 336.95,761.00 337.45,761.00 337.95,761.00 338.45,761.00 338.95,761.00 339.45,761.00 339.96,761.00 340.46,761.00 340.96,761.00 341.46,761.00 341.96,761.00 342.46,761.00 342.96,761.00 343.46,761.00 343.96,761.00 344.46,761.00 344.96,761.00 345.46,761.00 345.96,761.00 346.47,761.00 346.97,761.00 347.47,761.00 347.97,761.00 348.47,761.00 348.97,761.00 349.47,761.00 349.97,761.00 350.47,761.00 350.97,761.00 351.47,761.00 351.97,761.00 352.48,761.00 352.98,761.00 353.48,761.00 353.98,761.00 354.48,761.00 354.98,761.00 355.48,761.00 355.98,761.00 356.48,761.00 356.98,761.00 357.48,761.00 357.98,761.00 358.48,761.00 358.99,761.00 359.49,761.00 359.99,761.00 360.49,761.00 360.99,761.00 361.49,761.00 361.99,761.00 362.49,761.00 362.99,761.00 363.49,761.00 363.99,761.00 364.49,761.00 365.00,761.00 365.50,761.00 366.00,761.00 366.50,761.00 367.00,761.00 367.50,761.00 368.00,761.00 368.00,761.00" fill="#979797"/>
<polyline points="305.40,759.37 305.90,759.37 306.40,758.63 306.90,758.63 307.40,758.60 307.90,757.73 308.40,756.86 308.91,757.08 309.41,756.02 309.91,756.50 310.41,755.23 310.91,754.09 311.41,754.37 311.91,752.50 312.41,752.83 312.91,748.10 313.41,749.85 313.91,743.60 314.41,741.09 314.92,739.42 315.42,740.70 315.92,740.20 316.42,737.24 316.92,730.29 317.42,730.53 317.92,722.18 318.42,730.63 318.92,721.82 319.42,712.23 319.92,713.49 320.42,711.33 320.92,721.77 321.43,722.44 321.93,721.81 322.43,713.29 322.93,716.26 323.43,727.68 323.93,719.01 324.43,732.94 324.93,726.55 325.43,723.30 325.93,732.50 326.43,726.83 326.93,731.63 327.44,739.36 327.94,737.18 328.44,736.84 328.94,739.62 329.44,735.86 329.94,741.79 330.44,737.39 330.94,742.33 331.44,745.00 331.94,742.25 332.44,746.49 332.94,744.37 333.44,743.96 333.95,746.19 334.45,747.96 334.95,751.02 335.45,749.54 335.95,752.16 336.45,750.77 336.95,753.50 337.45,752.82 337.95,754.36 338.45,755.12 338.95,754.98 339.45,756.49 339.96,756.85 340.46,755.89 340.96,757.35 341.46,757.05 341.96,757.50 342.46,758.41 342.96,759.13 343.46,759.29 343.96,758.80 344.46,759.49 344.96,759.35 345.46,759.48 345.96,759.61 346.47,759.74 346.97,759.87 347.47,760.00 347.97,760.13 348.47,760.26 348.97,760.39 349.47,760.46 349.97,760.47 350.47,760.48 350.97,760.48 351.47,760.49 351.97,760.50 352.48,760.50 352.98,760.51 353.48,760.52 353.98,760.53 354.48,760.53 354.98,760.54 355.48,760.55 355.98,760.55 356.48,760.56 356.98,760.57 357.48,760.58 357.98,760.58 358.48,760.59 358.99,760.60 359.49,760.61 359.99,760.61 360.49,760.62 360.99,760.63 361.49,760.63 361.99,760.64 362.49,760.65 362.99,760.66 363.49,760.66 363.99,760.67 364.49,760.68 365.00,760.69 365.50,760.69 366.00,760.70 366.50,760.71 367.00,760.71 367.50,760.72 368.00,760.73" fill="none" stroke="#000" stroke-width="1.35" stroke-linejoin="round"/>
<rect x="373.40" y="705.70" width="63.60" height="55.80" fill="#fff" stroke="#8a8a8a" stroke-width="1"/>
<polygon points="373.90,761.00 373.90,729.63 374.40,726.64 374.90,727.14 375.40,720.87 375.90,719.15 376.40,724.74 376.90,727.51 377.41,720.15 377.91,707.51 378.41,707.73 378.91,717.96 379.41,721.66 379.91,723.19 380.41,723.68 380.91,720.84 381.41,709.76 381.91,707.51 382.41,707.51 382.91,707.51 383.42,713.48 383.92,716.70 384.42,713.68 384.92,714.34 385.42,720.62 385.92,730.01 386.42,736.66 386.92,734.62 387.42,732.15 387.92,737.14 388.42,742.71 388.92,743.50 389.42,746.24 389.93,747.55 390.43,745.74 390.93,747.31 391.43,752.23 391.93,755.80 392.43,757.99 392.93,760.06 393.43,760.53 393.93,761.00 394.43,761.00 394.93,761.00 395.43,761.00 395.94,761.00 396.44,761.00 396.94,761.00 397.44,761.00 397.94,761.00 398.44,761.00 398.94,761.00 399.44,761.00 399.94,761.00 400.44,761.00 400.94,761.00 401.44,761.00 401.94,761.00 402.45,761.00 402.95,761.00 403.45,761.00 403.95,761.00 404.45,761.00 404.95,761.00 405.45,761.00 405.95,761.00 406.45,761.00 406.95,761.00 407.45,761.00 407.95,761.00 408.46,761.00 408.96,761.00 409.46,761.00 409.96,761.00 410.46,761.00 410.96,761.00 411.46,761.00 411.96,761.00 412.46,761.00 412.96,761.00 413.46,761.00 413.96,761.00 414.46,761.00 414.97,761.00 415.47,761.00 415.97,761.00 416.47,761.00 416.97,761.00 417.47,761.00 417.97,761.00 418.47,761.00 418.97,761.00 419.47,761.00 419.97,761.00 420.47,761.00 420.98,761.00 421.48,761.00 421.98,761.00 422.48,761.00 422.98,761.00 423.48,761.00 423.98,761.00 424.48,761.00 424.98,761.00 425.48,761.00 425.98,761.00 426.48,761.00 426.98,761.00 427.49,761.00 427.99,761.00 428.49,761.00 428.99,761.00 429.49,761.00 429.99,761.00 430.49,761.00 430.99,761.00 431.49,761.00 431.99,761.00 432.49,761.00 432.99,761.00 433.50,761.00 434.00,761.00 434.50,761.00 435.00,761.00 435.50,761.00 436.00,761.00 436.50,761.00 436.50,761.00" fill="#b4b4b4"/>
<polygon points="373.90,761.00 373.90,736.46 374.40,734.35 374.90,728.53 375.40,723.11 375.90,722.58 376.40,720.29 376.90,713.19 377.41,709.02 377.91,712.96 378.41,717.00 378.91,714.71 379.41,710.31 379.91,708.32 380.41,709.85 380.91,709.42 381.41,708.93 381.91,710.65 382.41,711.70 382.91,711.19 383.42,713.50 383.92,720.15 384.42,723.56 384.92,726.01 385.42,730.75 385.92,732.24 386.42,734.44 386.92,737.47 387.42,739.17 387.92,739.32 388.42,740.14 388.92,742.23 389.42,745.42 389.93,748.75 390.43,750.59 390.93,751.31 391.43,752.59 391.93,755.50 392.43,758.67 392.93,760.13 393.43,760.57 393.93,761.00 394.43,761.00 394.93,761.00 395.43,761.00 395.94,761.00 396.44,761.00 396.94,761.00 397.44,761.00 397.94,761.00 398.44,761.00 398.94,761.00 399.44,761.00 399.94,761.00 400.44,761.00 400.94,761.00 401.44,761.00 401.94,761.00 402.45,761.00 402.95,761.00 403.45,761.00 403.95,761.00 404.45,761.00 404.95,761.00 405.45,761.00 405.95,761.00 406.45,761.00 406.95,761.00 407.45,761.00 407.95,761.00 408.46,761.00 408.96,761.00 409.46,761.00 409.96,761.00 410.46,761.00 410.96,761.00 411.46,761.00 411.96,761.00 412.46,761.00 412.96,761.00 413.46,761.00 413.96,761.00 414.46,761.00 414.97,761.00 415.47,761.00 415.97,761.00 416.47,761.00 416.97,761.00 417.47,761.00 417.97,761.00 418.47,761.00 418.97,761.00 419.47,761.00 419.97,761.00 420.47,761.00 420.98,761.00 421.48,761.00 421.98,761.00 422.48,761.00 422.98,761.00 423.48,761.00 423.98,761.00 424.48,761.00 424.98,761.00 425.48,761.00 425.98,761.00 426.48,761.00 426.98,761.00 427.49,761.00 427.99,761.00 428.49,761.00 428.99,761.00 429.49,761.00 429.99,761.00 430.49,761.00 430.99,761.00 431.49,761.00 431.99,761.00 432.49,761.00 432.99,761.00 433.50,761.00 434.00,761.00 434.50,761.00 435.00,761.00 435.50,761.00 436.00,761.00 436.50,761.00 436.50,761.00" fill="#979797"/>
<polyline points="373.90,758.08 374.40,757.02 374.90,756.11 375.40,752.95 375.90,751.59 376.40,751.34 376.90,749.46 377.41,745.52 377.91,746.40 378.41,745.90 378.91,739.17 379.41,739.55 379.91,737.45 380.41,733.75 380.91,728.86 381.41,735.51 381.91,731.03 382.41,732.73 382.91,726.34 383.42,723.83 383.92,717.23 384.42,718.74 384.92,718.90 385.42,720.56 385.92,716.43 386.42,720.50 386.92,710.97 387.42,712.58 387.92,712.35 388.42,724.61 388.92,716.40 389.42,715.64 389.93,720.37 390.43,714.56 390.93,715.52 391.43,719.79 391.93,720.50 392.43,724.74 392.93,723.51 393.43,734.66 393.93,729.38 394.43,731.19 394.93,733.94 395.43,738.96 395.94,742.36 396.44,739.27 396.94,739.32 397.44,745.07 397.94,746.98 398.44,748.40 398.94,750.54 399.44,748.48 399.94,748.03 400.44,749.68 400.94,752.22 401.44,751.81 401.94,754.61 402.45,753.15 402.95,755.14 403.45,756.30 403.95,755.29 404.45,756.73 404.95,756.85 405.45,757.60 405.95,757.39 406.45,757.67 406.95,757.83 407.45,758.94 407.95,758.42 408.46,759.28 408.96,759.41 409.46,759.46 409.96,759.71 410.46,759.96 410.96,760.21 411.46,760.46 411.96,760.46 412.46,760.47 412.96,760.47 413.46,760.48 413.96,760.48 414.46,760.49 414.97,760.50 415.47,760.50 415.97,760.51 416.47,760.51 416.97,760.52 417.47,760.52 417.97,760.53 418.47,760.53 418.97,760.54 419.47,760.54 419.97,760.55 420.47,760.55 420.98,760.56 421.48,760.57 421.98,760.57 422.48,760.58 422.98,760.58 423.48,760.59 423.98,760.59 424.48,760.60 424.98,760.60 425.48,760.61 425.98,760.61 426.48,760.62 426.98,760.63 427.49,760.63 427.99,760.64 428.49,760.64 428.99,760.65 429.49,760.65 429.99,760.66 430.49,760.66 430.99,760.67 431.49,760.67 431.99,760.68 432.49,760.69 432.99,760.69 433.50,760.70 434.00,760.70 434.50,760.71 435.00,760.71 435.50,760.72 436.00,760.72 436.50,760.73" fill="none" stroke="#000" stroke-width="1.35" stroke-linejoin="round"/>
<rect x="441.10" y="705.70" width="63.60" height="55.80" fill="#fff" stroke="#8a8a8a" stroke-width="1"/>
<polygon points="441.60,761.00 441.60,742.52 442.10,745.39 442.60,746.42 443.10,741.46 443.60,731.17 444.10,725.39 444.60,727.55 445.11,730.77 445.61,731.80 446.11,728.36 446.61,716.01 447.11,709.59 447.61,720.65 448.11,730.50 448.61,727.62 449.11,715.21 449.61,707.51 450.11,707.51 450.61,710.78 451.12,722.99 451.62,727.97 452.12,721.33 452.62,712.58 453.12,709.44 453.62,707.51 454.12,707.51 454.62,714.62 455.12,720.58 455.62,725.47 456.12,735.38 456.62,738.99 457.12,735.54 457.63,737.43 458.13,742.74 458.63,746.64 459.13,746.34 459.63,743.39 460.13,743.73 460.63,745.90 461.13,749.27 461.63,752.69 462.13,754.94 462.63,756.66 463.13,758.13 463.64,759.94 464.14,760.41 464.64,760.88 465.14,761.00 465.64,761.00 466.14,761.00 466.64,761.00 467.14,761.00 467.64,761.00 468.14,761.00 468.64,761.00 469.14,761.00 469.64,761.00 470.15,761.00 470.65,761.00 471.15,761.00 471.65,761.00 472.15,761.00 472.65,761.00 473.15,761.00 473.65,761.00 474.15,761.00 474.65,761.00 475.15,761.00 475.65,761.00 476.16,761.00 476.66,761.00 477.16,761.00 477.66,761.00 478.16,761.00 478.66,761.00 479.16,761.00 479.66,761.00 480.16,761.00 480.66,761.00 481.16,761.00 481.66,761.00 482.16,761.00 482.67,761.00 483.17,761.00 483.67,761.00 484.17,761.00 484.67,761.00 485.17,761.00 485.67,761.00 486.17,761.00 486.67,761.00 487.17,761.00 487.67,761.00 488.17,761.00 488.68,761.00 489.18,761.00 489.68,761.00 490.18,761.00 490.68,761.00 491.18,761.00 491.68,761.00 492.18,761.00 492.68,761.00 493.18,761.00 493.68,761.00 494.18,761.00 494.68,761.00 495.19,761.00 495.69,761.00 496.19,761.00 496.69,761.00 497.19,761.00 497.69,761.00 498.19,761.00 498.69,761.00 499.19,761.00 499.69,761.00 500.19,761.00 500.69,761.00 501.20,761.00 501.70,761.00 502.20,761.00 502.70,761.00 503.20,761.00 503.70,761.00 504.20,761.00 504.20,761.00" fill="#b4b4b4"/>
<polygon points="441.60,761.00 441.60,743.31 442.10,743.02 442.60,739.75 443.10,736.15 443.60,734.02 444.10,732.47 444.60,730.55 445.11,727.32 445.61,726.29 446.11,729.22 446.61,728.50 447.11,724.10 447.61,722.36 448.11,723.09 448.61,721.49 449.11,718.32 449.61,716.43 450.11,710.28 450.61,707.51 451.12,711.88 451.62,716.64 452.12,717.11 452.62,719.78 453.12,723.25 453.62,723.09 454.12,720.86 454.62,723.84 455.12,730.12 455.62,732.31 456.12,730.42 456.62,729.88 457.12,734.11 457.63,739.59 458.13,742.23 458.63,742.86 459.13,744.45 459.63,747.07 460.13,748.14 460.63,749.17 461.13,752.20 461.63,755.10 462.13,756.77 462.63,757.68 463.13,758.75 463.64,760.02 464.14,760.46 464.64,760.89 465.14,761.00 465.64,761.00 466.14,761.00 466.64,761.00 467.14,761.00 467.64,761.00 468.14,761.00 468.64,761.00 469.14,761.00 469.64,761.00 470.15,761.00 470.65,761.00 471.15,761.00 471.65,761.00 472.15,761.00 472.65,761.00 473.15,761.00 473.65,761.00 474.15,761.00 474.65,761.00 475.15,761.00 475.65,761.00 476.16,761.00 476.66,761.00 477.16,761.00 477.66,761.00 478.16,761.00 478.66,761.00 479.16,761.00 479.66,761.00 480.16,761.00 480.66,761.00 481.16,761.00 481.66,761.00 482.16,761.00 482.67,761.00 483.17,761.00 483.67,761.00 484.17,761.00 484.67,761.00 485.17,761.00 485.67,761.00 486.17,761.00 486.67,761.00 487.17,761.00 487.67,761.00 488.17,761.00 488.68,761.00 489.18,761.00 489.68,761.00 490.18,761.00 490.68,761.00 491.18,761.00 491.68,761.00 492.18,761.00 492.68,761.00 493.18,761.00 493.68,761.00 494.18,761.00 494.68,761.00 495.19,761.00 495.69,761.00 496.19,761.00 496.69,761.00 497.19,761.00 497.69,761.00 498.19,761.00 498.69,761.00 499.19,761.00 499.69,761.00 500.19,761.00 500.69,761.00 501.20,761.00 501.70,761.00 502.20,761.00 502.70,761.00 503.20,761.00 503.70,761.00 504.20,761.00 504.20,761.00" fill="#979797"/>
<polyline points="441.60,759.04 442.10,758.17 442.60,758.24 443.10,757.34 443.60,755.52 444.10,753.95 444.60,751.93 445.11,751.74 445.61,751.36 446.11,750.00 446.61,748.97 447.11,745.36 447.61,745.41 448.11,744.05 448.61,738.90 449.11,732.19 449.61,732.67 450.11,735.13 450.61,727.15 451.12,732.55 451.62,731.81 452.12,727.98 452.62,725.42 453.12,720.11 453.62,722.77 454.12,717.15 454.62,726.42 455.12,711.32 455.62,721.65 456.12,715.46 456.62,729.81 457.12,719.59 457.63,730.01 458.13,723.32 458.63,726.02 459.13,729.59 459.63,735.85 460.13,740.35 460.63,740.21 461.13,735.70 461.63,743.89 462.13,742.00 462.63,744.54 463.13,746.14 463.64,750.35 464.14,751.49 464.64,752.63 465.14,750.43 465.64,753.62 466.14,753.97 466.64,755.34 467.14,757.10 467.64,758.30 468.14,758.93 468.64,758.40 469.14,759.30 469.64,758.98 470.15,759.59 470.65,759.88 471.15,760.17 471.65,760.46 472.15,760.46 472.65,760.47 473.15,760.47 473.65,760.47 474.15,760.48 474.65,760.48 475.15,760.49 475.65,760.49 476.16,760.49 476.66,760.50 477.16,760.50 477.66,760.51 478.16,760.51 478.66,760.52 479.16,760.52 479.66,760.52 480.16,760.53 480.66,760.53 481.16,760.54 481.66,760.54 482.16,760.54 482.67,760.55 483.17,760.55 483.67,760.56 484.17,760.56 484.67,760.57 485.17,760.57 485.67,760.57 486.17,760.58 486.67,760.58 487.17,760.59 487.67,760.59 488.17,760.59 488.68,760.60 489.18,760.60 489.68,760.61 490.18,760.61 490.68,760.62 491.18,760.62 491.68,760.62 492.18,760.63 492.68,760.63 493.18,760.64 493.68,760.64 494.18,760.64 494.68,760.65 495.19,760.65 495.69,760.66 496.19,760.66 496.69,760.67 497.19,760.67 497.69,760.67 498.19,760.68 498.69,760.68 499.19,760.69 499.69,760.69 500.19,760.70 500.69,760.70 501.20,760.70 501.70,760.71 502.20,760.71 502.70,760.72 503.20,760.72 503.70,760.72 504.20,760.73" fill="none" stroke="#000" stroke-width="1.35" stroke-linejoin="round"/>
<rect x="304.90" y="766.00" width="63.60" height="54.90" fill="#fff" stroke="#8a8a8a" stroke-width="1"/>
<polygon points="305.40,820.40 305.40,799.31 305.90,801.11 306.40,798.83 306.90,789.35 307.40,787.40 307.90,790.44 308.40,781.67 308.91,770.82 309.41,773.31 309.91,778.34 310.41,773.91 310.91,767.80 311.41,769.79 311.91,772.49 312.41,767.80 312.91,767.80 313.41,767.80 313.91,767.80 314.41,772.94 314.92,777.90 315.42,788.58 315.92,793.46 316.42,788.88 316.92,791.20 317.42,800.73 317.92,806.51 318.42,807.64 318.92,808.47 319.42,810.87 319.92,811.75 320.42,811.82 320.92,813.51 321.43,816.26 321.93,818.38 322.43,819.48 322.93,820.40 323.43,820.40 323.93,820.40 324.43,820.40 324.93,820.40 325.43,820.40 325.93,820.40 326.43,820.40 326.93,820.40 327.44,820.40 327.94,820.40 328.44,820.40 328.94,820.40 329.44,820.40 329.94,820.40 330.44,820.40 330.94,820.40 331.44,820.40 331.94,820.40 332.44,820.40 332.94,820.40 333.44,820.40 333.95,820.40 334.45,820.40 334.95,820.40 335.45,820.40 335.95,820.40 336.45,820.40 336.95,820.40 337.45,820.40 337.95,820.40 338.45,820.40 338.95,820.40 339.45,820.40 339.96,820.40 340.46,820.40 340.96,820.40 341.46,820.40 341.96,820.40 342.46,820.40 342.96,820.40 343.46,820.40 343.96,820.40 344.46,820.40 344.96,820.40 345.46,820.40 345.96,820.40 346.47,820.40 346.97,820.40 347.47,820.40 347.97,820.40 348.47,820.40 348.97,820.40 349.47,820.40 349.97,820.40 350.47,820.40 350.97,820.40 351.47,820.40 351.97,820.40 352.48,820.40 352.98,820.40 353.48,820.40 353.98,820.40 354.48,820.40 354.98,820.40 355.48,820.40 355.98,820.40 356.48,820.40 356.98,820.40 357.48,820.40 357.98,820.40 358.48,820.40 358.99,820.40 359.49,820.40 359.99,820.40 360.49,820.40 360.99,820.40 361.49,820.40 361.99,820.40 362.49,820.40 362.99,820.40 363.49,820.40 363.99,820.40 364.49,820.40 365.00,820.40 365.50,820.40 366.00,820.40 366.50,820.40 367.00,820.40 367.50,820.40 368.00,820.40 368.00,820.40" fill="#b4b4b4"/>
<polygon points="305.40,820.40 305.40,798.79 305.90,794.70 306.40,791.04 306.90,789.87 307.40,787.77 307.90,781.21 308.40,778.60 308.91,780.60 309.41,776.92 309.91,773.39 310.41,776.32 310.91,774.26 311.41,767.80 311.91,767.80 312.41,770.64 312.91,769.84 313.41,772.85 313.91,774.49 314.41,778.53 314.92,786.51 315.42,791.27 315.92,793.63 316.42,796.92 316.92,800.30 317.42,801.82 317.92,802.56 318.42,805.02 318.92,807.66 319.42,808.40 319.92,809.64 320.42,812.54 320.92,815.06 321.43,817.12 321.93,818.74 322.43,819.55 322.93,820.40 323.43,820.40 323.93,820.40 324.43,820.40 324.93,820.40 325.43,820.40 325.93,820.40 326.43,820.40 326.93,820.40 327.44,820.40 327.94,820.40 328.44,820.40 328.94,820.40 329.44,820.40 329.94,820.40 330.44,820.40 330.94,820.40 331.44,820.40 331.94,820.40 332.44,820.40 332.94,820.40 333.44,820.40 333.95,820.40 334.45,820.40 334.95,820.40 335.45,820.40 335.95,820.40 336.45,820.40 336.95,820.40 337.45,820.40 337.95,820.40 338.45,820.40 338.95,820.40 339.45,820.40 339.96,820.40 340.46,820.40 340.96,820.40 341.46,820.40 341.96,820.40 342.46,820.40 342.96,820.40 343.46,820.40 343.96,820.40 344.46,820.40 344.96,820.40 345.46,820.40 345.96,820.40 346.47,820.40 346.97,820.40 347.47,820.40 347.97,820.40 348.47,820.40 348.97,820.40 349.47,820.40 349.97,820.40 350.47,820.40 350.97,820.40 351.47,820.40 351.97,820.40 352.48,820.40 352.98,820.40 353.48,820.40 353.98,820.40 354.48,820.40 354.98,820.40 355.48,820.40 355.98,820.40 356.48,820.40 356.98,820.40 357.48,820.40 357.98,820.40 358.48,820.40 358.99,820.40 359.49,820.40 359.99,820.40 360.49,820.40 360.99,820.40 361.49,820.40 361.99,820.40 362.49,820.40 362.99,820.40 363.49,820.40 363.99,820.40 364.49,820.40 365.00,820.40 365.50,820.40 366.00,820.40 366.50,820.40 367.00,820.40 367.50,820.40 368.00,820.40 368.00,820.40" fill="#979797"/>
<polyline points="305.40,818.44 305.90,818.14 306.40,817.86 306.90,817.62 307.40,816.98 307.90,817.54 308.40,817.13 308.91,816.31 309.41,816.66 309.91,816.58 310.41,816.19 310.91,814.84 311.41,814.39 311.91,814.30 312.41,813.41 312.91,813.47 313.41,814.40 313.91,814.11 314.41,811.72 314.92,812.15 315.42,807.77 315.92,808.56 316.42,807.09 316.92,802.00 317.42,802.88 317.92,794.10 318.42,791.51 318.92,793.06 319.42,793.64 319.92,792.33 320.42,784.52 320.92,782.85 321.43,783.84 321.93,776.79 322.43,778.33 322.93,772.62 323.43,782.92 323.93,784.39 324.43,780.60 324.93,780.80 325.43,786.12 325.93,781.73 326.43,789.95 326.93,790.52 327.44,790.48 327.94,789.84 328.44,791.43 328.94,797.05 329.44,797.63 329.94,794.74 330.44,796.27 330.94,800.28 331.44,805.37 331.94,804.19 332.44,804.35 332.94,807.50 333.44,809.74 333.95,806.07 334.45,807.66 334.95,811.99 335.45,811.71 335.95,812.29 336.45,814.01 336.95,815.25 337.45,814.33 337.95,815.07 338.45,816.41 338.95,817.58 339.45,817.84 339.96,818.64 340.46,818.06 340.96,818.88 341.46,818.83 341.96,818.81 342.46,818.94 342.96,819.06 343.46,819.19 343.96,819.32 344.46,819.45 344.96,819.58 345.46,819.71 345.96,819.83 346.47,819.87 346.97,819.88 347.47,819.88 347.97,819.89 348.47,819.89 348.97,819.90 349.47,819.91 349.97,819.91 350.47,819.92 350.97,819.93 351.47,819.93 351.97,819.94 352.48,819.94 352.98,819.95 353.48,819.96 353.98,819.96 354.48,819.97 354.98,819.97 355.48,819.98 355.98,819.99 356.48,819.99 356.98,820.00 357.48,820.00 357.98,820.01 358.48,820.02 358.99,820.02 359.49,820.03 359.99,820.04 360.49,820.04 360.99,820.05 361.49,820.05 361.99,820.06 362.49,820.07 362.99,820.07 363.49,820.08 363.99,820.08 364.49,820.09 365.00,820.10 365.50,820.10 366.00,820.11 366.50,820.11 367.00,820.12 367.50,820.13 368.00,820.13" fill="none" stroke="#000" stroke-width="1.35" stroke-linejoin="round"/>
<rect x="373.40" y="766.00" width="63.80" height="54.90" fill="#fff" stroke="#8a8a8a" stroke-width="1"/>
<polygon points="373.90,820.40 373.90,798.23 374.40,788.48 374.90,784.71 375.41,788.47 375.91,788.00 376.41,783.93 376.91,780.78 377.42,781.86 377.92,785.32 378.42,777.31 378.92,767.80 379.43,767.80 379.93,767.80 380.43,767.80 380.93,767.80 381.44,772.36 381.94,767.80 382.44,767.80 382.94,768.24 383.45,774.22 383.95,778.59 384.45,784.68 384.95,791.47 385.46,793.60 385.96,793.75 386.46,796.16 386.96,800.87 387.46,803.10 387.97,802.94 388.47,803.90 388.97,805.90 389.47,806.65 389.98,808.18 390.48,812.30 390.98,815.69 391.48,817.69 391.99,819.02 392.49,819.94 392.99,820.40 393.49,820.40 394.00,820.40 394.50,820.40 395.00,820.40 395.50,820.40 396.01,820.40 396.51,820.40 397.01,820.40 397.51,820.40 398.02,820.40 398.52,820.40 399.02,820.40 399.52,820.40 400.02,820.40 400.53,820.40 401.03,820.40 401.53,820.40 402.03,820.40 402.54,820.40 403.04,820.40 403.54,820.40 404.04,820.40 404.55,820.40 405.05,820.40 405.55,820.40 406.05,820.40 406.56,820.40 407.06,820.40 407.56,820.40 408.06,820.40 408.57,820.40 409.07,820.40 409.57,820.40 410.07,820.40 410.58,820.40 411.08,820.40 411.58,820.40 412.08,820.40 412.58,820.40 413.09,820.40 413.59,820.40 414.09,820.40 414.59,820.40 415.10,820.40 415.60,820.40 416.10,820.40 416.60,820.40 417.11,820.40 417.61,820.40 418.11,820.40 418.61,820.40 419.12,820.40 419.62,820.40 420.12,820.40 420.62,820.40 421.13,820.40 421.63,820.40 422.13,820.40 422.63,820.40 423.14,820.40 423.64,820.40 424.14,820.40 424.64,820.40 425.14,820.40 425.65,820.40 426.15,820.40 426.65,820.40 427.15,820.40 427.66,820.40 428.16,820.40 428.66,820.40 429.16,820.40 429.67,820.40 430.17,820.40 430.67,820.40 431.17,820.40 431.68,820.40 432.18,820.40 432.68,820.40 433.18,820.40 433.69,820.40 434.19,820.40 434.69,820.40 435.19,820.40 435.70,820.40 436.20,820.40 436.70,820.40 436.70,820.40" fill="#b4b4b4"/>
<polygon points="373.90,820.40 373.90,796.65 374.40,797.43 374.90,796.21 375.41,789.05 375.91,780.56 376.41,774.68 376.91,772.21 377.42,772.25 377.92,770.79 378.42,773.36 378.92,776.01 379.43,770.84 379.93,767.80 380.43,770.04 380.93,774.56 381.44,779.49 381.94,782.60 382.44,783.11 382.94,784.32 383.45,788.24 383.95,793.79 384.45,796.62 384.95,795.30 385.46,793.78 385.96,795.89 386.46,800.19 386.96,802.38 387.46,803.63 387.97,805.32 388.47,805.70 388.97,807.11 389.47,809.93 389.98,811.76 390.48,813.42 390.98,815.67 391.48,818.05 391.99,819.12 392.49,819.97 392.99,820.40 393.49,820.40 394.00,820.40 394.50,820.40 395.00,820.40 395.50,820.40 396.01,820.40 396.51,820.40 397.01,820.40 397.51,820.40 398.02,820.40 398.52,820.40 399.02,820.40 399.52,820.40 400.02,820.40 400.53,820.40 401.03,820.40 401.53,820.40 402.03,820.40 402.54,820.40 403.04,820.40 403.54,820.40 404.04,820.40 404.55,820.40 405.05,820.40 405.55,820.40 406.05,820.40 406.56,820.40 407.06,820.40 407.56,820.40 408.06,820.40 408.57,820.40 409.07,820.40 409.57,820.40 410.07,820.40 410.58,820.40 411.08,820.40 411.58,820.40 412.08,820.40 412.58,820.40 413.09,820.40 413.59,820.40 414.09,820.40 414.59,820.40 415.10,820.40 415.60,820.40 416.10,820.40 416.60,820.40 417.11,820.40 417.61,820.40 418.11,820.40 418.61,820.40 419.12,820.40 419.62,820.40 420.12,820.40 420.62,820.40 421.13,820.40 421.63,820.40 422.13,820.40 422.63,820.40 423.14,820.40 423.64,820.40 424.14,820.40 424.64,820.40 425.14,820.40 425.65,820.40 426.15,820.40 426.65,820.40 427.15,820.40 427.66,820.40 428.16,820.40 428.66,820.40 429.16,820.40 429.67,820.40 430.17,820.40 430.67,820.40 431.17,820.40 431.68,820.40 432.18,820.40 432.68,820.40 433.18,820.40 433.69,820.40 434.19,820.40 434.69,820.40 435.19,820.40 435.70,820.40 436.20,820.40 436.70,820.40 436.70,820.40" fill="#979797"/>
<polyline points="373.90,818.41 374.40,818.36 374.90,817.58 375.41,816.54 375.91,816.58 376.41,815.67 376.91,814.91 377.42,814.25 377.92,811.94 378.42,812.25 378.92,812.41 379.43,811.50 379.93,808.78 380.43,810.49 380.93,806.38 381.44,808.60 381.94,806.22 382.44,805.80 382.94,798.75 383.45,802.48 383.95,800.41 384.45,800.65 384.95,797.25 385.46,790.74 385.96,789.08 386.46,784.66 386.96,781.94 387.46,785.15 387.97,777.77 388.47,788.31 388.97,773.23 389.47,779.28 389.98,782.44 390.48,772.00 390.98,769.20 391.48,776.96 391.99,781.66 392.49,768.85 392.99,773.35 393.49,778.24 394.00,774.62 394.50,790.80 395.00,792.47 395.50,793.60 396.01,796.85 396.51,791.48 397.01,794.86 397.51,801.93 398.02,803.59 398.52,805.24 399.02,803.28 399.52,803.91 400.02,803.24 400.53,807.68 401.03,805.51 401.53,809.18 402.03,810.32 402.54,811.78 403.04,812.53 403.54,810.53 404.04,811.09 404.55,812.55 405.05,814.55 405.55,814.99 406.05,815.51 406.56,815.55 407.06,815.32 407.56,817.01 408.06,816.76 408.57,817.01 409.07,817.97 409.57,817.65 410.07,817.44 410.58,817.85 411.08,818.14 411.58,817.94 412.08,818.36 412.58,818.72 413.09,818.84 413.59,818.95 414.09,819.12 414.59,819.29 415.10,819.38 415.60,819.44 416.10,819.51 416.60,819.57 417.11,819.64 417.61,819.70 418.11,819.76 418.61,819.83 419.12,819.89 419.62,819.96 420.12,820.02 420.62,820.08 421.13,820.13 421.63,820.13 422.13,820.13 422.63,820.13 423.14,820.13 423.64,820.13 424.14,820.13 424.64,820.13 425.14,820.13 425.65,820.13 426.15,820.13 426.65,820.13 427.15,820.13 427.66,820.13 428.16,820.13 428.66,820.13 429.16,820.13 429.67,820.13 430.17,820.13 430.67,820.13 431.17,820.13 431.68,820.13 432.18,820.13 432.68,820.13 433.18,820.13 433.69,820.13 434.19,820.13 434.69,820.13 435.19,820.13 435.70,820.13 436.20,820.13 436.70,820.13" fill="none" stroke="#000" stroke-width="1.35" stroke-linejoin="round"/>
<rect x="441.50" y="766.00" width="63.60" height="54.90" fill="#fff" stroke="#8a8a8a" stroke-width="1"/>
<polygon points="442.00,820.40 442.00,816.65 442.50,815.64 443.00,814.26 443.50,812.75 444.00,811.93 444.50,809.85 445.00,809.01 445.51,808.74 446.01,804.35 446.51,797.73 447.01,794.06 447.51,793.26 448.01,791.86 448.51,785.96 449.01,784.03 449.51,787.36 450.01,779.77 450.51,772.72 451.01,774.21 451.52,773.35 452.02,774.98 452.52,769.94 453.02,767.80 453.52,767.80 454.02,767.80 454.52,770.39 455.02,773.89 455.52,771.39 456.02,775.77 456.52,780.63 457.02,782.97 457.52,785.50 458.03,790.20 458.53,800.44 459.03,807.60 459.53,810.22 460.03,813.92 460.53,817.64 461.03,819.48 461.53,819.94 462.03,820.40 462.53,820.40 463.03,820.40 463.53,820.40 464.04,820.40 464.54,820.40 465.04,820.40 465.54,820.40 466.04,820.40 466.54,820.40 467.04,820.40 467.54,820.40 468.04,820.40 468.54,820.40 469.04,820.40 469.54,820.40 470.04,820.40 470.55,820.40 471.05,820.40 471.55,820.40 472.05,820.40 472.55,820.40 473.05,820.40 473.55,820.40 474.05,820.40 474.55,820.40 475.05,820.40 475.55,820.40 476.05,820.40 476.56,820.40 477.06,820.40 477.56,820.40 478.06,820.40 478.56,820.40 479.06,820.40 479.56,820.40 480.06,820.40 480.56,820.40 481.06,820.40 481.56,820.40 482.06,820.40 482.56,820.40 483.07,820.40 483.57,820.40 484.07,820.40 484.57,820.40 485.07,820.40 485.57,820.40 486.07,820.40 486.57,820.40 487.07,820.40 487.57,820.40 488.07,820.40 488.57,820.40 489.08,820.40 489.58,820.40 490.08,820.40 490.58,820.40 491.08,820.40 491.58,820.40 492.08,820.40 492.58,820.40 493.08,820.40 493.58,820.40 494.08,820.40 494.58,820.40 495.08,820.40 495.59,820.40 496.09,820.40 496.59,820.40 497.09,820.40 497.59,820.40 498.09,820.40 498.59,820.40 499.09,820.40 499.59,820.40 500.09,820.40 500.59,820.40 501.09,820.40 501.60,820.40 502.10,820.40 502.60,820.40 503.10,820.40 503.60,820.40 504.10,820.40 504.60,820.40 504.60,820.40" fill="#b4b4b4"/>
<polygon points="442.00,820.40 442.00,817.58 442.50,816.02 443.00,814.83 443.50,813.89 444.00,812.46 444.50,809.82 445.00,807.01 445.51,804.65 446.01,802.56 446.51,802.74 447.01,801.85 447.51,797.99 448.01,795.40 448.51,793.20 449.01,789.23 449.51,782.46 450.01,777.18 450.51,773.03 451.01,767.80 451.52,767.80 452.02,767.80 452.52,771.38 453.02,777.79 453.52,779.90 454.02,775.36 454.52,774.37 455.02,779.93 455.52,785.41 456.02,789.34 456.52,788.55 457.02,787.00 457.52,789.14 458.03,795.95 458.53,803.97 459.03,809.04 459.53,811.12 460.03,814.03 460.53,817.56 461.03,819.55 461.53,819.97 462.03,820.40 462.53,820.40 463.03,820.40 463.53,820.40 464.04,820.40 464.54,820.40 465.04,820.40 465.54,820.40 466.04,820.40 466.54,820.40 467.04,820.40 467.54,820.40 468.04,820.40 468.54,820.40 469.04,820.40 469.54,820.40 470.04,820.40 470.55,820.40 471.05,820.40 471.55,820.40 472.05,820.40 472.55,820.40 473.05,820.40 473.55,820.40 474.05,820.40 474.55,820.40 475.05,820.40 475.55,820.40 476.05,820.40 476.56,820.40 477.06,820.40 477.56,820.40 478.06,820.40 478.56,820.40 479.06,820.40 479.56,820.40 480.06,820.40 480.56,820.40 481.06,820.40 481.56,820.40 482.06,820.40 482.56,820.40 483.07,820.40 483.57,820.40 484.07,820.40 484.57,820.40 485.07,820.40 485.57,820.40 486.07,820.40 486.57,820.40 487.07,820.40 487.57,820.40 488.07,820.40 488.57,820.40 489.08,820.40 489.58,820.40 490.08,820.40 490.58,820.40 491.08,820.40 491.58,820.40 492.08,820.40 492.58,820.40 493.08,820.40 493.58,820.40 494.08,820.40 494.58,820.40 495.08,820.40 495.59,820.40 496.09,820.40 496.59,820.40 497.09,820.40 497.59,820.40 498.09,820.40 498.59,820.40 499.09,820.40 499.59,820.40 500.09,820.40 500.59,820.40 501.09,820.40 501.60,820.40 502.10,820.40 502.60,820.40 503.10,820.40 503.60,820.40 504.10,820.40 504.60,820.40 504.60,820.40" fill="#979797"/>
<polyline points="442.00,818.08 442.50,817.83 443.00,817.21 443.50,815.04 444.00,814.21 444.50,812.20 445.00,812.83 445.51,808.34 446.01,811.00 446.51,808.77 447.01,806.57 447.51,805.39 448.01,803.94 448.51,796.36 449.01,790.45 449.51,794.56 450.01,792.92 450.51,785.17 451.01,788.71 451.52,783.61 452.02,776.33 452.52,777.96 453.02,781.17 453.52,781.42 454.02,770.93 454.52,767.80 455.02,767.80 455.52,784.46 456.02,781.28 456.52,785.00 457.02,791.81 457.52,788.81 458.03,793.85 458.53,793.80 459.03,801.31 459.53,799.30 460.03,803.37 460.53,808.35 461.03,812.53 461.53,814.25 462.03,817.67 462.53,817.53 463.03,818.10 463.53,818.75 464.04,819.33 464.54,819.87 465.04,819.87 465.54,819.87 466.04,819.88 466.54,819.88 467.04,819.88 467.54,819.89 468.04,819.89 468.54,819.89 469.04,819.90 469.54,819.90 470.04,819.90 470.55,819.91 471.05,819.91 471.55,819.91 472.05,819.92 472.55,819.92 473.05,819.92 473.55,819.93 474.05,819.93 474.55,819.93 475.05,819.94 475.55,819.94 476.05,819.94 476.56,819.95 477.06,819.95 477.56,819.95 478.06,819.96 478.56,819.96 479.06,819.96 479.56,819.97 480.06,819.97 480.56,819.97 481.06,819.98 481.56,819.98 482.06,819.98 482.56,819.99 483.07,819.99 483.57,819.99 484.07,820.00 484.57,820.00 485.07,820.00 485.57,820.01 486.07,820.01 486.57,820.01 487.07,820.02 487.57,820.02 488.07,820.02 488.57,820.03 489.08,820.03 489.58,820.03 490.08,820.04 490.58,820.04 491.08,820.04 491.58,820.05 492.08,820.05 492.58,820.05 493.08,820.06 493.58,820.06 494.08,820.06 494.58,820.07 495.08,820.07 495.59,820.07 496.09,820.08 496.59,820.08 497.09,820.08 497.59,820.09 498.09,820.09 498.59,820.09 499.09,820.10 499.59,820.10 500.09,820.10 500.59,820.11 501.09,820.11 501.60,820.11 502.10,820.12 502.60,820.12 503.10,820.12 503.60,820.13 504.10,820.13 504.60,820.13" fill="none" stroke="#000" stroke-width="1.35" stroke-linejoin="round"/>
</svg>
</body></html>
